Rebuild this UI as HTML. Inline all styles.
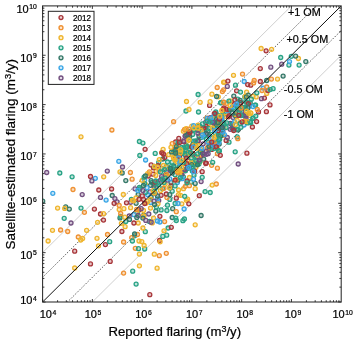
<!DOCTYPE html><html><head><meta charset="utf-8"><style>html,body{margin:0;padding:0;background:#fff;}svg{display:block;will-change:transform;} text{font-family:"Liberation Sans",sans-serif;fill:#000;stroke:#000;stroke-width:0.22px;}</style></head><body>
<svg width="357" height="342" viewBox="0 0 357 342">
<defs><clipPath id="c"><rect x="42.60" y="5.90" width="298.60" height="296.10"/></clipPath></defs>
<g clip-path="url(#c)">
<line x1="-7.17" y1="302.00" x2="390.97" y2="-92.80" stroke="#cfcfcf" stroke-width="1.0"/>
<line x1="-7.17" y1="400.70" x2="390.97" y2="5.90" stroke="#cfcfcf" stroke-width="1.0"/>
<line x1="-7.17" y1="326.68" x2="390.97" y2="-68.12" stroke="#3a3a3a" stroke-width="0.8" stroke-dasharray="1.5 1.4"/>
<line x1="-7.17" y1="376.02" x2="390.97" y2="-18.78" stroke="#3a3a3a" stroke-width="0.8" stroke-dasharray="1.5 1.4"/>
</g>
<g clip-path="url(#c)" stroke-width="1.3">
<circle cx="164.6" cy="221.6" r="2.0" stroke="#ef9132" fill="#ef9132" fill-opacity="0.3"/>
<circle cx="158.7" cy="200.5" r="2.0" stroke="#735080" fill="#735080" fill-opacity="0.3"/>
<circle cx="244.0" cy="125.0" r="2.0" stroke="#3aa6e6" fill="#3aa6e6" fill-opacity="0.3"/>
<circle cx="198.6" cy="126.4" r="2.0" stroke="#29a386" fill="#29a386" fill-opacity="0.3"/>
<circle cx="305.8" cy="61.6" r="2.0" stroke="#357868" fill="#357868" fill-opacity="0.3"/>
<circle cx="229.5" cy="109.3" r="2.0" stroke="#a8363a" fill="#a8363a" fill-opacity="0.3"/>
<circle cx="156.4" cy="171.3" r="2.0" stroke="#efb52e" fill="#efb52e" fill-opacity="0.3"/>
<circle cx="150.6" cy="202.4" r="2.0" stroke="#3aa6e6" fill="#3aa6e6" fill-opacity="0.3"/>
<circle cx="189.4" cy="177.5" r="2.0" stroke="#efb52e" fill="#efb52e" fill-opacity="0.3"/>
<circle cx="187.6" cy="157.1" r="2.0" stroke="#efb52e" fill="#efb52e" fill-opacity="0.3"/>
<circle cx="239.9" cy="104.2" r="2.0" stroke="#357868" fill="#357868" fill-opacity="0.3"/>
<circle cx="112.2" cy="195.5" r="2.0" stroke="#357868" fill="#357868" fill-opacity="0.3"/>
<circle cx="125.1" cy="226.7" r="2.0" stroke="#efb52e" fill="#efb52e" fill-opacity="0.3"/>
<circle cx="69.3" cy="209.1" r="2.0" stroke="#357868" fill="#357868" fill-opacity="0.3"/>
<circle cx="208.0" cy="130.9" r="2.0" stroke="#357868" fill="#357868" fill-opacity="0.3"/>
<circle cx="219.2" cy="144.1" r="2.0" stroke="#357868" fill="#357868" fill-opacity="0.3"/>
<circle cx="185.3" cy="170.8" r="2.0" stroke="#357868" fill="#357868" fill-opacity="0.3"/>
<circle cx="193.8" cy="130.3" r="2.0" stroke="#29a386" fill="#29a386" fill-opacity="0.3"/>
<circle cx="199.7" cy="125.8" r="2.0" stroke="#29a386" fill="#29a386" fill-opacity="0.3"/>
<circle cx="263.2" cy="88.1" r="2.0" stroke="#3aa6e6" fill="#3aa6e6" fill-opacity="0.3"/>
<circle cx="179.3" cy="159.5" r="2.0" stroke="#357868" fill="#357868" fill-opacity="0.3"/>
<circle cx="173.9" cy="166.0" r="2.0" stroke="#357868" fill="#357868" fill-opacity="0.3"/>
<circle cx="210.2" cy="192.5" r="2.0" stroke="#29a386" fill="#29a386" fill-opacity="0.3"/>
<circle cx="230.2" cy="129.3" r="2.0" stroke="#735080" fill="#735080" fill-opacity="0.3"/>
<circle cx="161.6" cy="152.6" r="2.0" stroke="#ef9132" fill="#ef9132" fill-opacity="0.3"/>
<circle cx="211.6" cy="165.3" r="2.0" stroke="#ef9132" fill="#ef9132" fill-opacity="0.3"/>
<circle cx="220.1" cy="125.1" r="2.0" stroke="#efb52e" fill="#efb52e" fill-opacity="0.3"/>
<circle cx="223.6" cy="82.2" r="2.0" stroke="#efb52e" fill="#efb52e" fill-opacity="0.3"/>
<circle cx="185.5" cy="150.0" r="2.0" stroke="#357868" fill="#357868" fill-opacity="0.3"/>
<circle cx="173.7" cy="151.3" r="2.0" stroke="#29a386" fill="#29a386" fill-opacity="0.3"/>
<circle cx="139.4" cy="187.5" r="2.0" stroke="#29a386" fill="#29a386" fill-opacity="0.3"/>
<circle cx="192.3" cy="171.0" r="2.0" stroke="#29a386" fill="#29a386" fill-opacity="0.3"/>
<circle cx="225.3" cy="113.2" r="2.0" stroke="#ef9132" fill="#ef9132" fill-opacity="0.3"/>
<circle cx="165.1" cy="184.2" r="2.0" stroke="#efb52e" fill="#efb52e" fill-opacity="0.3"/>
<circle cx="199.4" cy="127.4" r="2.0" stroke="#ef9132" fill="#ef9132" fill-opacity="0.3"/>
<circle cx="180.7" cy="161.6" r="2.0" stroke="#29a386" fill="#29a386" fill-opacity="0.3"/>
<circle cx="191.1" cy="182.2" r="2.0" stroke="#29a386" fill="#29a386" fill-opacity="0.3"/>
<circle cx="217.3" cy="148.6" r="2.0" stroke="#ef9132" fill="#ef9132" fill-opacity="0.3"/>
<circle cx="188.8" cy="132.3" r="2.0" stroke="#29a386" fill="#29a386" fill-opacity="0.3"/>
<circle cx="175.1" cy="174.8" r="2.0" stroke="#29a386" fill="#29a386" fill-opacity="0.3"/>
<circle cx="175.2" cy="159.2" r="2.0" stroke="#a8363a" fill="#a8363a" fill-opacity="0.3"/>
<circle cx="175.2" cy="148.8" r="2.0" stroke="#a8363a" fill="#a8363a" fill-opacity="0.3"/>
<circle cx="178.0" cy="152.0" r="2.0" stroke="#29a386" fill="#29a386" fill-opacity="0.3"/>
<circle cx="151.1" cy="197.0" r="2.0" stroke="#357868" fill="#357868" fill-opacity="0.3"/>
<circle cx="187.0" cy="164.7" r="2.0" stroke="#29a386" fill="#29a386" fill-opacity="0.3"/>
<circle cx="187.7" cy="154.1" r="2.0" stroke="#29a386" fill="#29a386" fill-opacity="0.3"/>
<circle cx="181.2" cy="174.6" r="2.0" stroke="#a8363a" fill="#a8363a" fill-opacity="0.3"/>
<circle cx="177.0" cy="147.6" r="2.0" stroke="#29a386" fill="#29a386" fill-opacity="0.3"/>
<circle cx="260.3" cy="81.5" r="2.0" stroke="#a8363a" fill="#a8363a" fill-opacity="0.3"/>
<circle cx="227.9" cy="114.1" r="2.0" stroke="#3aa6e6" fill="#3aa6e6" fill-opacity="0.3"/>
<circle cx="183.3" cy="170.6" r="2.0" stroke="#a8363a" fill="#a8363a" fill-opacity="0.3"/>
<circle cx="237.9" cy="129.9" r="2.0" stroke="#357868" fill="#357868" fill-opacity="0.3"/>
<circle cx="161.6" cy="168.4" r="2.0" stroke="#29a386" fill="#29a386" fill-opacity="0.3"/>
<circle cx="159.9" cy="216.3" r="2.0" stroke="#a8363a" fill="#a8363a" fill-opacity="0.3"/>
<circle cx="110.2" cy="261.4" r="2.0" stroke="#a8363a" fill="#a8363a" fill-opacity="0.3"/>
<circle cx="139.0" cy="209.9" r="2.0" stroke="#a8363a" fill="#a8363a" fill-opacity="0.3"/>
<circle cx="136.1" cy="203.3" r="2.0" stroke="#357868" fill="#357868" fill-opacity="0.3"/>
<circle cx="244.8" cy="107.4" r="2.0" stroke="#735080" fill="#735080" fill-opacity="0.3"/>
<circle cx="233.1" cy="117.6" r="2.0" stroke="#735080" fill="#735080" fill-opacity="0.3"/>
<circle cx="193.4" cy="154.7" r="2.0" stroke="#a8363a" fill="#a8363a" fill-opacity="0.3"/>
<circle cx="206.6" cy="118.1" r="2.0" stroke="#ef9132" fill="#ef9132" fill-opacity="0.3"/>
<circle cx="168.1" cy="228.0" r="2.0" stroke="#29a386" fill="#29a386" fill-opacity="0.3"/>
<circle cx="242.7" cy="107.6" r="2.0" stroke="#29a386" fill="#29a386" fill-opacity="0.3"/>
<circle cx="137.4" cy="212.9" r="2.0" stroke="#29a386" fill="#29a386" fill-opacity="0.3"/>
<circle cx="195.8" cy="145.5" r="2.0" stroke="#29a386" fill="#29a386" fill-opacity="0.3"/>
<circle cx="183.4" cy="176.8" r="2.0" stroke="#29a386" fill="#29a386" fill-opacity="0.3"/>
<circle cx="154.3" cy="254.2" r="2.0" stroke="#efb52e" fill="#efb52e" fill-opacity="0.3"/>
<circle cx="219.5" cy="115.7" r="2.0" stroke="#29a386" fill="#29a386" fill-opacity="0.3"/>
<circle cx="185.3" cy="150.8" r="2.0" stroke="#29a386" fill="#29a386" fill-opacity="0.3"/>
<circle cx="187.8" cy="131.1" r="2.0" stroke="#357868" fill="#357868" fill-opacity="0.3"/>
<circle cx="226.7" cy="103.3" r="2.0" stroke="#ef9132" fill="#ef9132" fill-opacity="0.3"/>
<circle cx="178.0" cy="172.5" r="2.0" stroke="#735080" fill="#735080" fill-opacity="0.3"/>
<circle cx="177.1" cy="147.8" r="2.0" stroke="#ef9132" fill="#ef9132" fill-opacity="0.3"/>
<circle cx="196.1" cy="163.3" r="2.0" stroke="#efb52e" fill="#efb52e" fill-opacity="0.3"/>
<circle cx="189.4" cy="185.7" r="2.0" stroke="#ef9132" fill="#ef9132" fill-opacity="0.3"/>
<circle cx="202.5" cy="130.9" r="2.0" stroke="#29a386" fill="#29a386" fill-opacity="0.3"/>
<circle cx="184.1" cy="209.0" r="2.0" stroke="#3aa6e6" fill="#3aa6e6" fill-opacity="0.3"/>
<circle cx="217.4" cy="168.2" r="2.0" stroke="#ef9132" fill="#ef9132" fill-opacity="0.3"/>
<circle cx="166.3" cy="171.6" r="2.0" stroke="#735080" fill="#735080" fill-opacity="0.3"/>
<circle cx="186.1" cy="145.1" r="2.0" stroke="#29a386" fill="#29a386" fill-opacity="0.3"/>
<circle cx="209.0" cy="143.8" r="2.0" stroke="#efb52e" fill="#efb52e" fill-opacity="0.3"/>
<circle cx="209.6" cy="105.4" r="2.0" stroke="#a8363a" fill="#a8363a" fill-opacity="0.3"/>
<circle cx="210.1" cy="101.7" r="2.0" stroke="#efb52e" fill="#efb52e" fill-opacity="0.3"/>
<circle cx="192.6" cy="134.4" r="2.0" stroke="#29a386" fill="#29a386" fill-opacity="0.3"/>
<circle cx="238.2" cy="164.0" r="2.0" stroke="#735080" fill="#735080" fill-opacity="0.3"/>
<circle cx="84.4" cy="212.3" r="2.0" stroke="#ef9132" fill="#ef9132" fill-opacity="0.3"/>
<circle cx="223.6" cy="89.8" r="2.0" stroke="#ef9132" fill="#ef9132" fill-opacity="0.3"/>
<circle cx="182.6" cy="153.4" r="2.0" stroke="#29a386" fill="#29a386" fill-opacity="0.3"/>
<circle cx="143.5" cy="199.4" r="2.0" stroke="#a8363a" fill="#a8363a" fill-opacity="0.3"/>
<circle cx="190.5" cy="163.1" r="2.0" stroke="#29a386" fill="#29a386" fill-opacity="0.3"/>
<circle cx="166.3" cy="253.3" r="2.0" stroke="#ef9132" fill="#ef9132" fill-opacity="0.3"/>
<circle cx="246.6" cy="92.2" r="2.0" stroke="#efb52e" fill="#efb52e" fill-opacity="0.3"/>
<circle cx="209.9" cy="144.8" r="2.0" stroke="#735080" fill="#735080" fill-opacity="0.3"/>
<circle cx="219.5" cy="121.0" r="2.0" stroke="#efb52e" fill="#efb52e" fill-opacity="0.3"/>
<circle cx="245.7" cy="101.6" r="2.0" stroke="#29a386" fill="#29a386" fill-opacity="0.3"/>
<circle cx="208.9" cy="135.8" r="2.0" stroke="#735080" fill="#735080" fill-opacity="0.3"/>
<circle cx="180.5" cy="149.3" r="2.0" stroke="#29a386" fill="#29a386" fill-opacity="0.3"/>
<circle cx="258.5" cy="112.0" r="2.0" stroke="#a8363a" fill="#a8363a" fill-opacity="0.3"/>
<circle cx="154.0" cy="186.5" r="2.0" stroke="#735080" fill="#735080" fill-opacity="0.3"/>
<circle cx="64.2" cy="218.3" r="2.0" stroke="#29a386" fill="#29a386" fill-opacity="0.3"/>
<circle cx="122.2" cy="173.0" r="2.0" stroke="#357868" fill="#357868" fill-opacity="0.3"/>
<circle cx="216.3" cy="184.0" r="2.0" stroke="#ef9132" fill="#ef9132" fill-opacity="0.3"/>
<circle cx="246.9" cy="153.2" r="2.0" stroke="#a8363a" fill="#a8363a" fill-opacity="0.3"/>
<circle cx="211.4" cy="137.3" r="2.0" stroke="#3aa6e6" fill="#3aa6e6" fill-opacity="0.3"/>
<circle cx="223.0" cy="109.3" r="2.0" stroke="#a8363a" fill="#a8363a" fill-opacity="0.3"/>
<circle cx="151.1" cy="164.9" r="2.0" stroke="#a8363a" fill="#a8363a" fill-opacity="0.3"/>
<circle cx="158.7" cy="162.5" r="2.0" stroke="#29a386" fill="#29a386" fill-opacity="0.3"/>
<circle cx="237.2" cy="136.9" r="2.0" stroke="#29a386" fill="#29a386" fill-opacity="0.3"/>
<circle cx="130.6" cy="207.7" r="2.0" stroke="#efb52e" fill="#efb52e" fill-opacity="0.3"/>
<circle cx="201.0" cy="137.6" r="2.0" stroke="#29a386" fill="#29a386" fill-opacity="0.3"/>
<circle cx="195.9" cy="167.3" r="2.0" stroke="#efb52e" fill="#efb52e" fill-opacity="0.3"/>
<circle cx="171.0" cy="182.4" r="2.0" stroke="#357868" fill="#357868" fill-opacity="0.3"/>
<circle cx="175.6" cy="158.3" r="2.0" stroke="#a8363a" fill="#a8363a" fill-opacity="0.3"/>
<circle cx="250.1" cy="121.7" r="2.0" stroke="#29a386" fill="#29a386" fill-opacity="0.3"/>
<circle cx="187.6" cy="146.2" r="2.0" stroke="#efb52e" fill="#efb52e" fill-opacity="0.3"/>
<circle cx="189.6" cy="136.8" r="2.0" stroke="#29a386" fill="#29a386" fill-opacity="0.3"/>
<circle cx="155.8" cy="211.1" r="2.0" stroke="#357868" fill="#357868" fill-opacity="0.3"/>
<circle cx="235.2" cy="115.4" r="2.0" stroke="#357868" fill="#357868" fill-opacity="0.3"/>
<circle cx="81.0" cy="136.8" r="2.0" stroke="#efb52e" fill="#efb52e" fill-opacity="0.3"/>
<circle cx="179.2" cy="167.8" r="2.0" stroke="#3aa6e6" fill="#3aa6e6" fill-opacity="0.3"/>
<circle cx="94.4" cy="209.1" r="2.0" stroke="#a8363a" fill="#a8363a" fill-opacity="0.3"/>
<circle cx="266.4" cy="111.7" r="2.0" stroke="#a8363a" fill="#a8363a" fill-opacity="0.3"/>
<circle cx="132.7" cy="271.2" r="2.0" stroke="#29a386" fill="#29a386" fill-opacity="0.3"/>
<circle cx="169.8" cy="199.4" r="2.0" stroke="#29a386" fill="#29a386" fill-opacity="0.3"/>
<circle cx="182.0" cy="174.6" r="2.0" stroke="#735080" fill="#735080" fill-opacity="0.3"/>
<circle cx="203.7" cy="159.1" r="2.0" stroke="#357868" fill="#357868" fill-opacity="0.3"/>
<circle cx="248.3" cy="95.1" r="2.0" stroke="#357868" fill="#357868" fill-opacity="0.3"/>
<circle cx="154.4" cy="184.3" r="2.0" stroke="#a8363a" fill="#a8363a" fill-opacity="0.3"/>
<circle cx="233.1" cy="129.0" r="2.0" stroke="#357868" fill="#357868" fill-opacity="0.3"/>
<circle cx="150.6" cy="199.4" r="2.0" stroke="#efb52e" fill="#efb52e" fill-opacity="0.3"/>
<circle cx="222.4" cy="91.6" r="2.0" stroke="#ef9132" fill="#ef9132" fill-opacity="0.3"/>
<circle cx="162.8" cy="159.0" r="2.0" stroke="#357868" fill="#357868" fill-opacity="0.3"/>
<circle cx="143.7" cy="215.2" r="2.0" stroke="#357868" fill="#357868" fill-opacity="0.3"/>
<circle cx="178.6" cy="190.0" r="2.0" stroke="#efb52e" fill="#efb52e" fill-opacity="0.3"/>
<circle cx="164.8" cy="157.6" r="2.0" stroke="#a8363a" fill="#a8363a" fill-opacity="0.3"/>
<circle cx="222.0" cy="120.5" r="2.0" stroke="#3aa6e6" fill="#3aa6e6" fill-opacity="0.3"/>
<circle cx="248.9" cy="106.3" r="2.0" stroke="#3aa6e6" fill="#3aa6e6" fill-opacity="0.3"/>
<circle cx="199.3" cy="195.7" r="2.0" stroke="#a8363a" fill="#a8363a" fill-opacity="0.3"/>
<circle cx="237.8" cy="99.2" r="2.0" stroke="#29a386" fill="#29a386" fill-opacity="0.3"/>
<circle cx="205.5" cy="128.0" r="2.0" stroke="#29a386" fill="#29a386" fill-opacity="0.3"/>
<circle cx="152.9" cy="174.2" r="2.0" stroke="#a8363a" fill="#a8363a" fill-opacity="0.3"/>
<circle cx="156.4" cy="207.0" r="2.0" stroke="#29a386" fill="#29a386" fill-opacity="0.3"/>
<circle cx="174.1" cy="170.8" r="2.0" stroke="#29a386" fill="#29a386" fill-opacity="0.3"/>
<circle cx="149.4" cy="221.5" r="2.0" stroke="#29a386" fill="#29a386" fill-opacity="0.3"/>
<circle cx="135.3" cy="248.3" r="2.0" stroke="#ef9132" fill="#ef9132" fill-opacity="0.3"/>
<circle cx="218.5" cy="123.4" r="2.0" stroke="#29a386" fill="#29a386" fill-opacity="0.3"/>
<circle cx="288.9" cy="65.1" r="2.0" stroke="#29a386" fill="#29a386" fill-opacity="0.3"/>
<circle cx="236.1" cy="114.7" r="2.0" stroke="#efb52e" fill="#efb52e" fill-opacity="0.3"/>
<circle cx="136.8" cy="212.0" r="2.0" stroke="#efb52e" fill="#efb52e" fill-opacity="0.3"/>
<circle cx="153.5" cy="167.8" r="2.0" stroke="#a8363a" fill="#a8363a" fill-opacity="0.3"/>
<circle cx="162.6" cy="188.7" r="2.0" stroke="#29a386" fill="#29a386" fill-opacity="0.3"/>
<circle cx="187.8" cy="160.2" r="2.0" stroke="#ef9132" fill="#ef9132" fill-opacity="0.3"/>
<circle cx="207.2" cy="134.4" r="2.0" stroke="#735080" fill="#735080" fill-opacity="0.3"/>
<circle cx="198.9" cy="164.0" r="2.0" stroke="#29a386" fill="#29a386" fill-opacity="0.3"/>
<circle cx="188.1" cy="138.1" r="2.0" stroke="#29a386" fill="#29a386" fill-opacity="0.3"/>
<circle cx="178.5" cy="168.8" r="2.0" stroke="#efb52e" fill="#efb52e" fill-opacity="0.3"/>
<circle cx="262.0" cy="90.5" r="2.0" stroke="#ef9132" fill="#ef9132" fill-opacity="0.3"/>
<circle cx="231.9" cy="123.4" r="2.0" stroke="#efb52e" fill="#efb52e" fill-opacity="0.3"/>
<circle cx="144.7" cy="249.0" r="2.0" stroke="#29a386" fill="#29a386" fill-opacity="0.3"/>
<circle cx="229.0" cy="142.2" r="2.0" stroke="#29a386" fill="#29a386" fill-opacity="0.3"/>
<circle cx="196.4" cy="163.5" r="2.0" stroke="#29a386" fill="#29a386" fill-opacity="0.3"/>
<circle cx="232.0" cy="124.0" r="2.0" stroke="#3aa6e6" fill="#3aa6e6" fill-opacity="0.3"/>
<circle cx="182.9" cy="220.7" r="2.0" stroke="#29a386" fill="#29a386" fill-opacity="0.3"/>
<circle cx="157.5" cy="183.0" r="2.0" stroke="#29a386" fill="#29a386" fill-opacity="0.3"/>
<circle cx="211.7" cy="149.4" r="2.0" stroke="#a8363a" fill="#a8363a" fill-opacity="0.3"/>
<circle cx="144.7" cy="180.1" r="2.0" stroke="#3aa6e6" fill="#3aa6e6" fill-opacity="0.3"/>
<circle cx="238.5" cy="108.6" r="2.0" stroke="#357868" fill="#357868" fill-opacity="0.3"/>
<circle cx="212.7" cy="143.2" r="2.0" stroke="#735080" fill="#735080" fill-opacity="0.3"/>
<circle cx="171.4" cy="170.9" r="2.0" stroke="#357868" fill="#357868" fill-opacity="0.3"/>
<circle cx="177.4" cy="182.4" r="2.0" stroke="#3aa6e6" fill="#3aa6e6" fill-opacity="0.3"/>
<circle cx="218.8" cy="118.4" r="2.0" stroke="#efb52e" fill="#efb52e" fill-opacity="0.3"/>
<circle cx="214.7" cy="123.6" r="2.0" stroke="#29a386" fill="#29a386" fill-opacity="0.3"/>
<circle cx="166.9" cy="197.6" r="2.0" stroke="#ef9132" fill="#ef9132" fill-opacity="0.3"/>
<circle cx="165.7" cy="174.3" r="2.0" stroke="#357868" fill="#357868" fill-opacity="0.3"/>
<circle cx="209.0" cy="149.7" r="2.0" stroke="#29a386" fill="#29a386" fill-opacity="0.3"/>
<circle cx="179.8" cy="149.1" r="2.0" stroke="#efb52e" fill="#efb52e" fill-opacity="0.3"/>
<circle cx="223.8" cy="127.5" r="2.0" stroke="#efb52e" fill="#efb52e" fill-opacity="0.3"/>
<circle cx="224.4" cy="82.3" r="2.0" stroke="#efb52e" fill="#efb52e" fill-opacity="0.3"/>
<circle cx="166.3" cy="166.6" r="2.0" stroke="#357868" fill="#357868" fill-opacity="0.3"/>
<circle cx="219.4" cy="150.9" r="2.0" stroke="#29a386" fill="#29a386" fill-opacity="0.3"/>
<circle cx="145.3" cy="184.2" r="2.0" stroke="#efb52e" fill="#efb52e" fill-opacity="0.3"/>
<circle cx="183.4" cy="131.2" r="2.0" stroke="#efb52e" fill="#efb52e" fill-opacity="0.3"/>
<circle cx="174.1" cy="167.6" r="2.0" stroke="#29a386" fill="#29a386" fill-opacity="0.3"/>
<circle cx="216.3" cy="146.7" r="2.0" stroke="#a8363a" fill="#a8363a" fill-opacity="0.3"/>
<circle cx="244.9" cy="108.7" r="2.0" stroke="#29a386" fill="#29a386" fill-opacity="0.3"/>
<circle cx="216.8" cy="124.0" r="2.0" stroke="#357868" fill="#357868" fill-opacity="0.3"/>
<circle cx="157.5" cy="198.8" r="2.0" stroke="#3aa6e6" fill="#3aa6e6" fill-opacity="0.3"/>
<circle cx="181.8" cy="203.8" r="2.0" stroke="#efb52e" fill="#efb52e" fill-opacity="0.3"/>
<circle cx="134.6" cy="235.8" r="2.0" stroke="#29a386" fill="#29a386" fill-opacity="0.3"/>
<circle cx="156.2" cy="187.2" r="2.0" stroke="#29a386" fill="#29a386" fill-opacity="0.3"/>
<circle cx="193.0" cy="167.9" r="2.0" stroke="#29a386" fill="#29a386" fill-opacity="0.3"/>
<circle cx="222.0" cy="132.8" r="2.0" stroke="#29a386" fill="#29a386" fill-opacity="0.3"/>
<circle cx="249.9" cy="115.7" r="2.0" stroke="#efb52e" fill="#efb52e" fill-opacity="0.3"/>
<circle cx="180.1" cy="152.2" r="2.0" stroke="#29a386" fill="#29a386" fill-opacity="0.3"/>
<circle cx="224.1" cy="124.0" r="2.0" stroke="#29a386" fill="#29a386" fill-opacity="0.3"/>
<circle cx="152.0" cy="182.5" r="2.0" stroke="#29a386" fill="#29a386" fill-opacity="0.3"/>
<circle cx="175.6" cy="142.0" r="2.0" stroke="#a8363a" fill="#a8363a" fill-opacity="0.3"/>
<circle cx="244.8" cy="96.9" r="2.0" stroke="#29a386" fill="#29a386" fill-opacity="0.3"/>
<circle cx="219.2" cy="125.4" r="2.0" stroke="#29a386" fill="#29a386" fill-opacity="0.3"/>
<circle cx="184.3" cy="163.4" r="2.0" stroke="#ef9132" fill="#ef9132" fill-opacity="0.3"/>
<circle cx="183.6" cy="148.2" r="2.0" stroke="#29a386" fill="#29a386" fill-opacity="0.3"/>
<circle cx="247.7" cy="122.9" r="2.0" stroke="#29a386" fill="#29a386" fill-opacity="0.3"/>
<circle cx="223.0" cy="135.4" r="2.0" stroke="#efb52e" fill="#efb52e" fill-opacity="0.3"/>
<circle cx="215.6" cy="127.5" r="2.0" stroke="#efb52e" fill="#efb52e" fill-opacity="0.3"/>
<circle cx="213.9" cy="148.5" r="2.0" stroke="#29a386" fill="#29a386" fill-opacity="0.3"/>
<circle cx="150.0" cy="191.8" r="2.0" stroke="#735080" fill="#735080" fill-opacity="0.3"/>
<circle cx="187.4" cy="146.6" r="2.0" stroke="#29a386" fill="#29a386" fill-opacity="0.3"/>
<circle cx="250.2" cy="102.9" r="2.0" stroke="#357868" fill="#357868" fill-opacity="0.3"/>
<circle cx="149.8" cy="294.7" r="2.0" stroke="#a8363a" fill="#a8363a" fill-opacity="0.3"/>
<circle cx="97.6" cy="222.3" r="2.0" stroke="#efb52e" fill="#efb52e" fill-opacity="0.3"/>
<circle cx="137.5" cy="234.5" r="2.0" stroke="#ef9132" fill="#ef9132" fill-opacity="0.3"/>
<circle cx="250.7" cy="85.2" r="2.0" stroke="#a8363a" fill="#a8363a" fill-opacity="0.3"/>
<circle cx="133.9" cy="214.7" r="2.0" stroke="#3aa6e6" fill="#3aa6e6" fill-opacity="0.3"/>
<circle cx="218.5" cy="142.5" r="2.0" stroke="#a8363a" fill="#a8363a" fill-opacity="0.3"/>
<circle cx="158.0" cy="203.8" r="2.0" stroke="#efb52e" fill="#efb52e" fill-opacity="0.3"/>
<circle cx="123.3" cy="194.5" r="2.0" stroke="#efb52e" fill="#efb52e" fill-opacity="0.3"/>
<circle cx="246.4" cy="122.1" r="2.0" stroke="#29a386" fill="#29a386" fill-opacity="0.3"/>
<circle cx="200.9" cy="155.2" r="2.0" stroke="#a8363a" fill="#a8363a" fill-opacity="0.3"/>
<circle cx="177.2" cy="146.3" r="2.0" stroke="#efb52e" fill="#efb52e" fill-opacity="0.3"/>
<circle cx="255.1" cy="105.1" r="2.0" stroke="#29a386" fill="#29a386" fill-opacity="0.3"/>
<circle cx="229.1" cy="109.7" r="2.0" stroke="#a8363a" fill="#a8363a" fill-opacity="0.3"/>
<circle cx="57.6" cy="208.1" r="2.0" stroke="#efb52e" fill="#efb52e" fill-opacity="0.3"/>
<circle cx="226.1" cy="140.4" r="2.0" stroke="#a8363a" fill="#a8363a" fill-opacity="0.3"/>
<circle cx="211.2" cy="142.1" r="2.0" stroke="#efb52e" fill="#efb52e" fill-opacity="0.3"/>
<circle cx="209.0" cy="123.4" r="2.0" stroke="#efb52e" fill="#efb52e" fill-opacity="0.3"/>
<circle cx="235.7" cy="112.9" r="2.0" stroke="#357868" fill="#357868" fill-opacity="0.3"/>
<circle cx="215.1" cy="124.1" r="2.0" stroke="#3aa6e6" fill="#3aa6e6" fill-opacity="0.3"/>
<circle cx="256.2" cy="96.9" r="2.0" stroke="#efb52e" fill="#efb52e" fill-opacity="0.3"/>
<circle cx="180.8" cy="150.1" r="2.0" stroke="#efb52e" fill="#efb52e" fill-opacity="0.3"/>
<circle cx="227.3" cy="137.5" r="2.0" stroke="#735080" fill="#735080" fill-opacity="0.3"/>
<circle cx="214.4" cy="128.0" r="2.0" stroke="#29a386" fill="#29a386" fill-opacity="0.3"/>
<circle cx="218.8" cy="142.1" r="2.0" stroke="#3aa6e6" fill="#3aa6e6" fill-opacity="0.3"/>
<circle cx="48.1" cy="241.0" r="2.0" stroke="#efb52e" fill="#efb52e" fill-opacity="0.3"/>
<circle cx="159.3" cy="159.6" r="2.0" stroke="#efb52e" fill="#efb52e" fill-opacity="0.3"/>
<circle cx="186.0" cy="111.0" r="2.0" stroke="#29a386" fill="#29a386" fill-opacity="0.3"/>
<circle cx="211.9" cy="94.2" r="2.0" stroke="#efb52e" fill="#efb52e" fill-opacity="0.3"/>
<circle cx="217.6" cy="121.2" r="2.0" stroke="#a8363a" fill="#a8363a" fill-opacity="0.3"/>
<circle cx="74.7" cy="251.2" r="2.0" stroke="#a8363a" fill="#a8363a" fill-opacity="0.3"/>
<circle cx="270.8" cy="67.2" r="2.0" stroke="#735080" fill="#735080" fill-opacity="0.3"/>
<circle cx="223.8" cy="108.0" r="2.0" stroke="#a8363a" fill="#a8363a" fill-opacity="0.3"/>
<circle cx="219.7" cy="139.2" r="2.0" stroke="#29a386" fill="#29a386" fill-opacity="0.3"/>
<circle cx="220.6" cy="127.2" r="2.0" stroke="#efb52e" fill="#efb52e" fill-opacity="0.3"/>
<circle cx="105.4" cy="244.6" r="2.0" stroke="#a8363a" fill="#a8363a" fill-opacity="0.3"/>
<circle cx="120.0" cy="217.9" r="2.0" stroke="#357868" fill="#357868" fill-opacity="0.3"/>
<circle cx="194.1" cy="141.4" r="2.0" stroke="#3aa6e6" fill="#3aa6e6" fill-opacity="0.3"/>
<circle cx="172.0" cy="162.1" r="2.0" stroke="#29a386" fill="#29a386" fill-opacity="0.3"/>
<circle cx="95.3" cy="178.3" r="2.0" stroke="#3aa6e6" fill="#3aa6e6" fill-opacity="0.3"/>
<circle cx="183.9" cy="141.7" r="2.0" stroke="#a8363a" fill="#a8363a" fill-opacity="0.3"/>
<circle cx="155.2" cy="193.5" r="2.0" stroke="#735080" fill="#735080" fill-opacity="0.3"/>
<circle cx="125.8" cy="180.6" r="2.0" stroke="#357868" fill="#357868" fill-opacity="0.3"/>
<circle cx="266.1" cy="50.8" r="2.0" stroke="#a8363a" fill="#a8363a" fill-opacity="0.3"/>
<circle cx="216.5" cy="122.3" r="2.0" stroke="#29a386" fill="#29a386" fill-opacity="0.3"/>
<circle cx="299.1" cy="65.1" r="2.0" stroke="#29a386" fill="#29a386" fill-opacity="0.3"/>
<circle cx="189.4" cy="167.6" r="2.0" stroke="#735080" fill="#735080" fill-opacity="0.3"/>
<circle cx="129.2" cy="216.0" r="2.0" stroke="#735080" fill="#735080" fill-opacity="0.3"/>
<circle cx="191.0" cy="162.9" r="2.0" stroke="#efb52e" fill="#efb52e" fill-opacity="0.3"/>
<circle cx="186.5" cy="101.5" r="2.0" stroke="#efb52e" fill="#efb52e" fill-opacity="0.3"/>
<circle cx="131.4" cy="199.3" r="2.0" stroke="#29a386" fill="#29a386" fill-opacity="0.3"/>
<circle cx="214.3" cy="113.6" r="2.0" stroke="#a8363a" fill="#a8363a" fill-opacity="0.3"/>
<circle cx="198.1" cy="141.3" r="2.0" stroke="#a8363a" fill="#a8363a" fill-opacity="0.3"/>
<circle cx="143.5" cy="210.5" r="2.0" stroke="#efb52e" fill="#efb52e" fill-opacity="0.3"/>
<circle cx="159.6" cy="240.5" r="2.0" stroke="#a8363a" fill="#a8363a" fill-opacity="0.3"/>
<circle cx="226.1" cy="127.5" r="2.0" stroke="#29a386" fill="#29a386" fill-opacity="0.3"/>
<circle cx="147.6" cy="194.7" r="2.0" stroke="#3aa6e6" fill="#3aa6e6" fill-opacity="0.3"/>
<circle cx="132.1" cy="179.2" r="2.0" stroke="#ef9132" fill="#ef9132" fill-opacity="0.3"/>
<circle cx="183.5" cy="141.1" r="2.0" stroke="#735080" fill="#735080" fill-opacity="0.3"/>
<circle cx="164.0" cy="230.8" r="2.0" stroke="#efb52e" fill="#efb52e" fill-opacity="0.3"/>
<circle cx="170.4" cy="170.1" r="2.0" stroke="#735080" fill="#735080" fill-opacity="0.3"/>
<circle cx="193.2" cy="141.1" r="2.0" stroke="#29a386" fill="#29a386" fill-opacity="0.3"/>
<circle cx="148.2" cy="176.0" r="2.0" stroke="#a8363a" fill="#a8363a" fill-opacity="0.3"/>
<circle cx="244.2" cy="81.5" r="2.0" stroke="#3aa6e6" fill="#3aa6e6" fill-opacity="0.3"/>
<circle cx="139.4" cy="141.5" r="2.0" stroke="#29a386" fill="#29a386" fill-opacity="0.3"/>
<circle cx="117.0" cy="201.8" r="2.0" stroke="#735080" fill="#735080" fill-opacity="0.3"/>
<circle cx="173.3" cy="157.3" r="2.0" stroke="#efb52e" fill="#efb52e" fill-opacity="0.3"/>
<circle cx="196.4" cy="161.2" r="2.0" stroke="#29a386" fill="#29a386" fill-opacity="0.3"/>
<circle cx="207.2" cy="148.2" r="2.0" stroke="#ef9132" fill="#ef9132" fill-opacity="0.3"/>
<circle cx="161.1" cy="195.3" r="2.0" stroke="#a8363a" fill="#a8363a" fill-opacity="0.3"/>
<circle cx="217.2" cy="87.5" r="2.0" stroke="#ef9132" fill="#ef9132" fill-opacity="0.3"/>
<circle cx="191.8" cy="126.1" r="2.0" stroke="#efb52e" fill="#efb52e" fill-opacity="0.3"/>
<circle cx="205.6" cy="122.3" r="2.0" stroke="#735080" fill="#735080" fill-opacity="0.3"/>
<circle cx="153.5" cy="218.1" r="2.0" stroke="#efb52e" fill="#efb52e" fill-opacity="0.3"/>
<circle cx="153.2" cy="190.7" r="2.0" stroke="#efb52e" fill="#efb52e" fill-opacity="0.3"/>
<circle cx="118.8" cy="161.3" r="2.0" stroke="#3aa6e6" fill="#3aa6e6" fill-opacity="0.3"/>
<circle cx="145.1" cy="149.3" r="2.0" stroke="#a8363a" fill="#a8363a" fill-opacity="0.3"/>
<circle cx="176.3" cy="152.3" r="2.0" stroke="#a8363a" fill="#a8363a" fill-opacity="0.3"/>
<circle cx="198.5" cy="129.7" r="2.0" stroke="#357868" fill="#357868" fill-opacity="0.3"/>
<circle cx="246.0" cy="118.8" r="2.0" stroke="#735080" fill="#735080" fill-opacity="0.3"/>
<circle cx="145.6" cy="160.0" r="2.0" stroke="#3aa6e6" fill="#3aa6e6" fill-opacity="0.3"/>
<circle cx="175.1" cy="203.5" r="2.0" stroke="#29a386" fill="#29a386" fill-opacity="0.3"/>
<circle cx="216.3" cy="141.7" r="2.0" stroke="#29a386" fill="#29a386" fill-opacity="0.3"/>
<circle cx="183.5" cy="188.7" r="2.0" stroke="#efb52e" fill="#efb52e" fill-opacity="0.3"/>
<circle cx="155.2" cy="153.4" r="2.0" stroke="#29a386" fill="#29a386" fill-opacity="0.3"/>
<circle cx="120.0" cy="171.9" r="2.0" stroke="#efb52e" fill="#efb52e" fill-opacity="0.3"/>
<circle cx="143.5" cy="216.0" r="2.0" stroke="#efb52e" fill="#efb52e" fill-opacity="0.3"/>
<circle cx="223.6" cy="114.5" r="2.0" stroke="#29a386" fill="#29a386" fill-opacity="0.3"/>
<circle cx="245.2" cy="96.4" r="2.0" stroke="#efb52e" fill="#efb52e" fill-opacity="0.3"/>
<circle cx="220.7" cy="102.8" r="2.0" stroke="#29a386" fill="#29a386" fill-opacity="0.3"/>
<circle cx="216.0" cy="136.2" r="2.0" stroke="#efb52e" fill="#efb52e" fill-opacity="0.3"/>
<circle cx="106.1" cy="200.1" r="2.0" stroke="#3aa6e6" fill="#3aa6e6" fill-opacity="0.3"/>
<circle cx="214.2" cy="123.9" r="2.0" stroke="#735080" fill="#735080" fill-opacity="0.3"/>
<circle cx="176.2" cy="146.6" r="2.0" stroke="#357868" fill="#357868" fill-opacity="0.3"/>
<circle cx="192.7" cy="144.9" r="2.0" stroke="#357868" fill="#357868" fill-opacity="0.3"/>
<circle cx="121.4" cy="223.3" r="2.0" stroke="#efb52e" fill="#efb52e" fill-opacity="0.3"/>
<circle cx="230.4" cy="100.9" r="2.0" stroke="#efb52e" fill="#efb52e" fill-opacity="0.3"/>
<circle cx="214.7" cy="130.2" r="2.0" stroke="#a8363a" fill="#a8363a" fill-opacity="0.3"/>
<circle cx="178.1" cy="180.0" r="2.0" stroke="#357868" fill="#357868" fill-opacity="0.3"/>
<circle cx="143.9" cy="216.3" r="2.0" stroke="#efb52e" fill="#efb52e" fill-opacity="0.3"/>
<circle cx="298.4" cy="58.5" r="2.0" stroke="#efb52e" fill="#efb52e" fill-opacity="0.3"/>
<circle cx="233.7" cy="108.0" r="2.0" stroke="#29a386" fill="#29a386" fill-opacity="0.3"/>
<circle cx="168.7" cy="154.7" r="2.0" stroke="#efb52e" fill="#efb52e" fill-opacity="0.3"/>
<circle cx="161.9" cy="178.9" r="2.0" stroke="#29a386" fill="#29a386" fill-opacity="0.3"/>
<circle cx="243.8" cy="115.5" r="2.0" stroke="#29a386" fill="#29a386" fill-opacity="0.3"/>
<circle cx="198.3" cy="130.5" r="2.0" stroke="#29a386" fill="#29a386" fill-opacity="0.3"/>
<circle cx="233.8" cy="96.1" r="2.0" stroke="#357868" fill="#357868" fill-opacity="0.3"/>
<circle cx="107.3" cy="171.1" r="2.0" stroke="#735080" fill="#735080" fill-opacity="0.3"/>
<circle cx="188.5" cy="134.4" r="2.0" stroke="#a8363a" fill="#a8363a" fill-opacity="0.3"/>
<circle cx="222.9" cy="131.2" r="2.0" stroke="#735080" fill="#735080" fill-opacity="0.3"/>
<circle cx="198.0" cy="140.7" r="2.0" stroke="#735080" fill="#735080" fill-opacity="0.3"/>
<circle cx="202.8" cy="153.0" r="2.0" stroke="#735080" fill="#735080" fill-opacity="0.3"/>
<circle cx="189.4" cy="149.9" r="2.0" stroke="#ef9132" fill="#ef9132" fill-opacity="0.3"/>
<circle cx="187.6" cy="199.2" r="2.0" stroke="#efb52e" fill="#efb52e" fill-opacity="0.3"/>
<circle cx="222.5" cy="129.6" r="2.0" stroke="#357868" fill="#357868" fill-opacity="0.3"/>
<circle cx="123.6" cy="242.0" r="2.0" stroke="#ef9132" fill="#ef9132" fill-opacity="0.3"/>
<circle cx="197.6" cy="163.7" r="2.0" stroke="#29a386" fill="#29a386" fill-opacity="0.3"/>
<circle cx="182.5" cy="170.6" r="2.0" stroke="#ef9132" fill="#ef9132" fill-opacity="0.3"/>
<circle cx="186.4" cy="200.3" r="2.0" stroke="#efb52e" fill="#efb52e" fill-opacity="0.3"/>
<circle cx="245.8" cy="116.3" r="2.0" stroke="#735080" fill="#735080" fill-opacity="0.3"/>
<circle cx="167.5" cy="176.0" r="2.0" stroke="#efb52e" fill="#efb52e" fill-opacity="0.3"/>
<circle cx="150.5" cy="208.1" r="2.0" stroke="#efb52e" fill="#efb52e" fill-opacity="0.3"/>
<circle cx="219.4" cy="123.7" r="2.0" stroke="#29a386" fill="#29a386" fill-opacity="0.3"/>
<circle cx="215.8" cy="127.7" r="2.0" stroke="#ef9132" fill="#ef9132" fill-opacity="0.3"/>
<circle cx="207.2" cy="118.5" r="2.0" stroke="#3aa6e6" fill="#3aa6e6" fill-opacity="0.3"/>
<circle cx="230.2" cy="123.5" r="2.0" stroke="#735080" fill="#735080" fill-opacity="0.3"/>
<circle cx="162.8" cy="236.4" r="2.0" stroke="#29a386" fill="#29a386" fill-opacity="0.3"/>
<circle cx="144.6" cy="183.6" r="2.0" stroke="#29a386" fill="#29a386" fill-opacity="0.3"/>
<circle cx="280.7" cy="57.5" r="2.0" stroke="#29a386" fill="#29a386" fill-opacity="0.3"/>
<circle cx="261.1" cy="48.5" r="2.0" stroke="#efb52e" fill="#efb52e" fill-opacity="0.3"/>
<circle cx="100.5" cy="214.0" r="2.0" stroke="#a8363a" fill="#a8363a" fill-opacity="0.3"/>
<circle cx="98.8" cy="190.0" r="2.0" stroke="#a8363a" fill="#a8363a" fill-opacity="0.3"/>
<circle cx="213.4" cy="141.8" r="2.0" stroke="#3aa6e6" fill="#3aa6e6" fill-opacity="0.3"/>
<circle cx="236.6" cy="90.8" r="2.0" stroke="#a8363a" fill="#a8363a" fill-opacity="0.3"/>
<circle cx="185.3" cy="186.3" r="2.0" stroke="#ef9132" fill="#ef9132" fill-opacity="0.3"/>
<circle cx="157.5" cy="195.9" r="2.0" stroke="#357868" fill="#357868" fill-opacity="0.3"/>
<circle cx="159.1" cy="170.2" r="2.0" stroke="#ef9132" fill="#ef9132" fill-opacity="0.3"/>
<circle cx="211.9" cy="134.4" r="2.0" stroke="#29a386" fill="#29a386" fill-opacity="0.3"/>
<circle cx="241.9" cy="111.2" r="2.0" stroke="#735080" fill="#735080" fill-opacity="0.3"/>
<circle cx="141.2" cy="208.7" r="2.0" stroke="#735080" fill="#735080" fill-opacity="0.3"/>
<circle cx="160.1" cy="241.8" r="2.0" stroke="#efb52e" fill="#efb52e" fill-opacity="0.3"/>
<circle cx="210.2" cy="117.7" r="2.0" stroke="#a8363a" fill="#a8363a" fill-opacity="0.3"/>
<circle cx="119.2" cy="209.6" r="2.0" stroke="#efb52e" fill="#efb52e" fill-opacity="0.3"/>
<circle cx="191.4" cy="154.9" r="2.0" stroke="#efb52e" fill="#efb52e" fill-opacity="0.3"/>
<circle cx="218.7" cy="135.6" r="2.0" stroke="#a8363a" fill="#a8363a" fill-opacity="0.3"/>
<circle cx="147.6" cy="201.7" r="2.0" stroke="#efb52e" fill="#efb52e" fill-opacity="0.3"/>
<circle cx="119.2" cy="205.5" r="2.0" stroke="#ef9132" fill="#ef9132" fill-opacity="0.3"/>
<circle cx="142.9" cy="218.1" r="2.0" stroke="#357868" fill="#357868" fill-opacity="0.3"/>
<circle cx="144.1" cy="245.5" r="2.0" stroke="#efb52e" fill="#efb52e" fill-opacity="0.3"/>
<circle cx="194.0" cy="144.8" r="2.0" stroke="#efb52e" fill="#efb52e" fill-opacity="0.3"/>
<circle cx="189.7" cy="136.4" r="2.0" stroke="#357868" fill="#357868" fill-opacity="0.3"/>
<circle cx="242.5" cy="74.1" r="2.0" stroke="#ef9132" fill="#ef9132" fill-opacity="0.3"/>
<circle cx="65.7" cy="206.9" r="2.0" stroke="#357868" fill="#357868" fill-opacity="0.3"/>
<circle cx="223.8" cy="102.2" r="2.0" stroke="#ef9132" fill="#ef9132" fill-opacity="0.3"/>
<circle cx="196.4" cy="147.1" r="2.0" stroke="#efb52e" fill="#efb52e" fill-opacity="0.3"/>
<circle cx="177.3" cy="162.0" r="2.0" stroke="#efb52e" fill="#efb52e" fill-opacity="0.3"/>
<circle cx="199.0" cy="136.2" r="2.0" stroke="#357868" fill="#357868" fill-opacity="0.3"/>
<circle cx="107.5" cy="234.5" r="2.0" stroke="#ef9132" fill="#ef9132" fill-opacity="0.3"/>
<circle cx="197.9" cy="125.1" r="2.0" stroke="#efb52e" fill="#efb52e" fill-opacity="0.3"/>
<circle cx="103.5" cy="220.1" r="2.0" stroke="#a8363a" fill="#a8363a" fill-opacity="0.3"/>
<circle cx="90.5" cy="263.9" r="2.0" stroke="#a8363a" fill="#a8363a" fill-opacity="0.3"/>
<circle cx="215.8" cy="112.0" r="2.0" stroke="#29a386" fill="#29a386" fill-opacity="0.3"/>
<circle cx="217.6" cy="141.8" r="2.0" stroke="#29a386" fill="#29a386" fill-opacity="0.3"/>
<circle cx="163.4" cy="165.5" r="2.0" stroke="#efb52e" fill="#efb52e" fill-opacity="0.3"/>
<circle cx="202.3" cy="152.9" r="2.0" stroke="#357868" fill="#357868" fill-opacity="0.3"/>
<circle cx="237.8" cy="138.7" r="2.0" stroke="#ef9132" fill="#ef9132" fill-opacity="0.3"/>
<circle cx="161.1" cy="209.9" r="2.0" stroke="#29a386" fill="#29a386" fill-opacity="0.3"/>
<circle cx="192.9" cy="153.5" r="2.0" stroke="#a8363a" fill="#a8363a" fill-opacity="0.3"/>
<circle cx="200.2" cy="102.3" r="2.0" stroke="#efb52e" fill="#efb52e" fill-opacity="0.3"/>
<circle cx="173.6" cy="121.7" r="2.0" stroke="#ef9132" fill="#ef9132" fill-opacity="0.3"/>
<circle cx="217.9" cy="118.8" r="2.0" stroke="#735080" fill="#735080" fill-opacity="0.3"/>
<circle cx="142.2" cy="180.3" r="2.0" stroke="#efb52e" fill="#efb52e" fill-opacity="0.3"/>
<circle cx="232.3" cy="124.3" r="2.0" stroke="#29a386" fill="#29a386" fill-opacity="0.3"/>
<circle cx="217.9" cy="132.2" r="2.0" stroke="#29a386" fill="#29a386" fill-opacity="0.3"/>
<circle cx="150.5" cy="185.3" r="2.0" stroke="#357868" fill="#357868" fill-opacity="0.3"/>
<circle cx="240.1" cy="110.2" r="2.0" stroke="#29a386" fill="#29a386" fill-opacity="0.3"/>
<circle cx="283.1" cy="76.1" r="2.0" stroke="#357868" fill="#357868" fill-opacity="0.3"/>
<circle cx="123.6" cy="273.1" r="2.0" stroke="#ef9132" fill="#ef9132" fill-opacity="0.3"/>
<circle cx="194.0" cy="175.2" r="2.0" stroke="#29a386" fill="#29a386" fill-opacity="0.3"/>
<circle cx="179.4" cy="173.1" r="2.0" stroke="#efb52e" fill="#efb52e" fill-opacity="0.3"/>
<circle cx="208.9" cy="146.3" r="2.0" stroke="#357868" fill="#357868" fill-opacity="0.3"/>
<circle cx="187.0" cy="155.6" r="2.0" stroke="#efb52e" fill="#efb52e" fill-opacity="0.3"/>
<circle cx="157.1" cy="268.2" r="2.0" stroke="#efb52e" fill="#efb52e" fill-opacity="0.3"/>
<circle cx="178.6" cy="156.1" r="2.0" stroke="#efb52e" fill="#efb52e" fill-opacity="0.3"/>
<circle cx="213.4" cy="145.2" r="2.0" stroke="#3aa6e6" fill="#3aa6e6" fill-opacity="0.3"/>
<circle cx="273.1" cy="88.7" r="2.0" stroke="#29a386" fill="#29a386" fill-opacity="0.3"/>
<circle cx="266.7" cy="93.4" r="2.0" stroke="#efb52e" fill="#efb52e" fill-opacity="0.3"/>
<circle cx="145.3" cy="231.7" r="2.0" stroke="#29a386" fill="#29a386" fill-opacity="0.3"/>
<circle cx="131.7" cy="237.6" r="2.0" stroke="#ef9132" fill="#ef9132" fill-opacity="0.3"/>
<circle cx="227.3" cy="86.4" r="2.0" stroke="#735080" fill="#735080" fill-opacity="0.3"/>
<circle cx="289.5" cy="61.6" r="2.0" stroke="#3aa6e6" fill="#3aa6e6" fill-opacity="0.3"/>
<circle cx="166.3" cy="194.0" r="2.0" stroke="#a8363a" fill="#a8363a" fill-opacity="0.3"/>
<circle cx="198.5" cy="112.0" r="2.0" stroke="#29a386" fill="#29a386" fill-opacity="0.3"/>
<circle cx="185.3" cy="136.3" r="2.0" stroke="#735080" fill="#735080" fill-opacity="0.3"/>
<circle cx="194.6" cy="171.2" r="2.0" stroke="#a8363a" fill="#a8363a" fill-opacity="0.3"/>
<circle cx="260.3" cy="68.6" r="2.0" stroke="#a8363a" fill="#a8363a" fill-opacity="0.3"/>
<circle cx="184.6" cy="129.5" r="2.0" stroke="#ef9132" fill="#ef9132" fill-opacity="0.3"/>
<circle cx="154.4" cy="166.4" r="2.0" stroke="#29a386" fill="#29a386" fill-opacity="0.3"/>
<circle cx="185.2" cy="135.9" r="2.0" stroke="#735080" fill="#735080" fill-opacity="0.3"/>
<circle cx="236.5" cy="129.2" r="2.0" stroke="#29a386" fill="#29a386" fill-opacity="0.3"/>
<circle cx="221.8" cy="120.4" r="2.0" stroke="#735080" fill="#735080" fill-opacity="0.3"/>
<circle cx="166.8" cy="166.9" r="2.0" stroke="#efb52e" fill="#efb52e" fill-opacity="0.3"/>
<circle cx="253.6" cy="82.9" r="2.0" stroke="#ef9132" fill="#ef9132" fill-opacity="0.3"/>
<circle cx="90.5" cy="176.5" r="2.0" stroke="#a8363a" fill="#a8363a" fill-opacity="0.3"/>
<circle cx="164.0" cy="182.4" r="2.0" stroke="#29a386" fill="#29a386" fill-opacity="0.3"/>
<circle cx="130.6" cy="202.3" r="2.0" stroke="#735080" fill="#735080" fill-opacity="0.3"/>
<circle cx="217.4" cy="153.7" r="2.0" stroke="#ef9132" fill="#ef9132" fill-opacity="0.3"/>
<circle cx="121.9" cy="231.5" r="2.0" stroke="#a8363a" fill="#a8363a" fill-opacity="0.3"/>
<circle cx="246.4" cy="96.8" r="2.0" stroke="#357868" fill="#357868" fill-opacity="0.3"/>
<circle cx="180.2" cy="153.4" r="2.0" stroke="#735080" fill="#735080" fill-opacity="0.3"/>
<circle cx="52.8" cy="193.3" r="2.0" stroke="#3aa6e6" fill="#3aa6e6" fill-opacity="0.3"/>
<circle cx="255.6" cy="105.1" r="2.0" stroke="#29a386" fill="#29a386" fill-opacity="0.3"/>
<circle cx="154.0" cy="201.1" r="2.0" stroke="#735080" fill="#735080" fill-opacity="0.3"/>
<circle cx="138.2" cy="215.4" r="2.0" stroke="#735080" fill="#735080" fill-opacity="0.3"/>
<circle cx="163.4" cy="153.8" r="2.0" stroke="#a8363a" fill="#a8363a" fill-opacity="0.3"/>
<circle cx="180.0" cy="153.8" r="2.0" stroke="#29a386" fill="#29a386" fill-opacity="0.3"/>
<circle cx="193.4" cy="162.3" r="2.0" stroke="#efb52e" fill="#efb52e" fill-opacity="0.3"/>
<circle cx="114.1" cy="203.3" r="2.0" stroke="#a8363a" fill="#a8363a" fill-opacity="0.3"/>
<circle cx="215.7" cy="124.9" r="2.0" stroke="#357868" fill="#357868" fill-opacity="0.3"/>
<circle cx="218.6" cy="142.5" r="2.0" stroke="#3aa6e6" fill="#3aa6e6" fill-opacity="0.3"/>
<circle cx="166.3" cy="174.3" r="2.0" stroke="#ef9132" fill="#ef9132" fill-opacity="0.3"/>
<circle cx="234.9" cy="99.8" r="2.0" stroke="#a8363a" fill="#a8363a" fill-opacity="0.3"/>
<circle cx="145.5" cy="192.4" r="2.0" stroke="#29a386" fill="#29a386" fill-opacity="0.3"/>
<circle cx="139.8" cy="155.5" r="2.0" stroke="#29a386" fill="#29a386" fill-opacity="0.3"/>
<circle cx="224.4" cy="134.6" r="2.0" stroke="#3aa6e6" fill="#3aa6e6" fill-opacity="0.3"/>
<circle cx="220.8" cy="102.7" r="2.0" stroke="#29a386" fill="#29a386" fill-opacity="0.3"/>
<circle cx="59.8" cy="173.0" r="2.0" stroke="#29a386" fill="#29a386" fill-opacity="0.3"/>
<circle cx="240.9" cy="127.3" r="2.0" stroke="#29a386" fill="#29a386" fill-opacity="0.3"/>
<circle cx="144.1" cy="177.2" r="2.0" stroke="#29a386" fill="#29a386" fill-opacity="0.3"/>
<circle cx="222.7" cy="127.7" r="2.0" stroke="#3aa6e6" fill="#3aa6e6" fill-opacity="0.3"/>
<circle cx="220.8" cy="135.7" r="2.0" stroke="#357868" fill="#357868" fill-opacity="0.3"/>
<circle cx="60.6" cy="230.0" r="2.0" stroke="#ef9132" fill="#ef9132" fill-opacity="0.3"/>
<circle cx="178.1" cy="142.1" r="2.0" stroke="#29a386" fill="#29a386" fill-opacity="0.3"/>
<circle cx="158.0" cy="165.7" r="2.0" stroke="#a8363a" fill="#a8363a" fill-opacity="0.3"/>
<circle cx="239.0" cy="115.3" r="2.0" stroke="#29a386" fill="#29a386" fill-opacity="0.3"/>
<circle cx="198.3" cy="145.6" r="2.0" stroke="#efb52e" fill="#efb52e" fill-opacity="0.3"/>
<circle cx="205.7" cy="163.5" r="2.0" stroke="#a8363a" fill="#a8363a" fill-opacity="0.3"/>
<circle cx="186.8" cy="146.8" r="2.0" stroke="#29a386" fill="#29a386" fill-opacity="0.3"/>
<circle cx="135.0" cy="188.8" r="2.0" stroke="#735080" fill="#735080" fill-opacity="0.3"/>
<circle cx="213.1" cy="117.5" r="2.0" stroke="#29a386" fill="#29a386" fill-opacity="0.3"/>
<circle cx="109.7" cy="241.7" r="2.0" stroke="#29a386" fill="#29a386" fill-opacity="0.3"/>
<circle cx="179.6" cy="166.5" r="2.0" stroke="#29a386" fill="#29a386" fill-opacity="0.3"/>
<circle cx="226.0" cy="116.5" r="2.0" stroke="#efb52e" fill="#efb52e" fill-opacity="0.3"/>
<circle cx="202.2" cy="171.7" r="2.0" stroke="#a8363a" fill="#a8363a" fill-opacity="0.3"/>
<circle cx="130.4" cy="172.5" r="2.0" stroke="#ef9132" fill="#ef9132" fill-opacity="0.3"/>
<circle cx="195.2" cy="183.4" r="2.0" stroke="#357868" fill="#357868" fill-opacity="0.3"/>
<circle cx="176.0" cy="153.3" r="2.0" stroke="#efb52e" fill="#efb52e" fill-opacity="0.3"/>
<circle cx="257.3" cy="109.5" r="2.0" stroke="#ef9132" fill="#ef9132" fill-opacity="0.3"/>
<circle cx="186.2" cy="157.7" r="2.0" stroke="#3aa6e6" fill="#3aa6e6" fill-opacity="0.3"/>
<circle cx="136.7" cy="209.4" r="2.0" stroke="#ef9132" fill="#ef9132" fill-opacity="0.3"/>
<circle cx="216.2" cy="146.8" r="2.0" stroke="#a8363a" fill="#a8363a" fill-opacity="0.3"/>
<circle cx="215.3" cy="116.3" r="2.0" stroke="#3aa6e6" fill="#3aa6e6" fill-opacity="0.3"/>
<circle cx="186.6" cy="163.7" r="2.0" stroke="#a8363a" fill="#a8363a" fill-opacity="0.3"/>
<circle cx="154.5" cy="166.5" r="2.0" stroke="#efb52e" fill="#efb52e" fill-opacity="0.3"/>
<circle cx="271.6" cy="49.3" r="2.0" stroke="#efb52e" fill="#efb52e" fill-opacity="0.3"/>
<circle cx="166.7" cy="235.2" r="2.0" stroke="#29a386" fill="#29a386" fill-opacity="0.3"/>
<circle cx="149.4" cy="171.9" r="2.0" stroke="#ef9132" fill="#ef9132" fill-opacity="0.3"/>
<circle cx="189.6" cy="149.0" r="2.0" stroke="#29a386" fill="#29a386" fill-opacity="0.3"/>
<circle cx="247.7" cy="84.6" r="2.0" stroke="#a8363a" fill="#a8363a" fill-opacity="0.3"/>
<circle cx="229.4" cy="115.6" r="2.0" stroke="#a8363a" fill="#a8363a" fill-opacity="0.3"/>
<circle cx="167.5" cy="180.1" r="2.0" stroke="#735080" fill="#735080" fill-opacity="0.3"/>
<circle cx="177.0" cy="169.6" r="2.0" stroke="#357868" fill="#357868" fill-opacity="0.3"/>
<circle cx="147.6" cy="173.7" r="2.0" stroke="#efb52e" fill="#efb52e" fill-opacity="0.3"/>
<circle cx="200.0" cy="161.8" r="2.0" stroke="#efb52e" fill="#efb52e" fill-opacity="0.3"/>
<circle cx="247.7" cy="102.7" r="2.0" stroke="#29a386" fill="#29a386" fill-opacity="0.3"/>
<circle cx="145.8" cy="220.4" r="2.0" stroke="#735080" fill="#735080" fill-opacity="0.3"/>
<circle cx="267.9" cy="90.5" r="2.0" stroke="#a8363a" fill="#a8363a" fill-opacity="0.3"/>
<circle cx="226.3" cy="109.1" r="2.0" stroke="#a8363a" fill="#a8363a" fill-opacity="0.3"/>
<circle cx="234.2" cy="104.5" r="2.0" stroke="#a8363a" fill="#a8363a" fill-opacity="0.3"/>
<circle cx="250.7" cy="113.2" r="2.0" stroke="#efb52e" fill="#efb52e" fill-opacity="0.3"/>
<circle cx="206.0" cy="126.2" r="2.0" stroke="#a8363a" fill="#a8363a" fill-opacity="0.3"/>
<circle cx="201.2" cy="134.3" r="2.0" stroke="#efb52e" fill="#efb52e" fill-opacity="0.3"/>
<circle cx="86.6" cy="230.3" r="2.0" stroke="#efb52e" fill="#efb52e" fill-opacity="0.3"/>
<circle cx="120.7" cy="216.4" r="2.0" stroke="#29a386" fill="#29a386" fill-opacity="0.3"/>
<circle cx="219.7" cy="118.0" r="2.0" stroke="#ef9132" fill="#ef9132" fill-opacity="0.3"/>
<circle cx="206.3" cy="133.5" r="2.0" stroke="#357868" fill="#357868" fill-opacity="0.3"/>
<circle cx="145.9" cy="203.3" r="2.0" stroke="#efb52e" fill="#efb52e" fill-opacity="0.3"/>
<circle cx="214.2" cy="115.7" r="2.0" stroke="#3aa6e6" fill="#3aa6e6" fill-opacity="0.3"/>
<circle cx="213.2" cy="118.9" r="2.0" stroke="#efb52e" fill="#efb52e" fill-opacity="0.3"/>
<circle cx="252.9" cy="118.3" r="2.0" stroke="#29a386" fill="#29a386" fill-opacity="0.3"/>
<circle cx="216.8" cy="114.7" r="2.0" stroke="#29a386" fill="#29a386" fill-opacity="0.3"/>
<circle cx="139.4" cy="265.8" r="2.0" stroke="#efb52e" fill="#efb52e" fill-opacity="0.3"/>
<circle cx="178.6" cy="194.7" r="2.0" stroke="#efb52e" fill="#efb52e" fill-opacity="0.3"/>
<circle cx="126.5" cy="202.8" r="2.0" stroke="#a8363a" fill="#a8363a" fill-opacity="0.3"/>
<circle cx="136.1" cy="284.1" r="2.0" stroke="#29a386" fill="#29a386" fill-opacity="0.3"/>
<circle cx="180.6" cy="195.3" r="2.0" stroke="#efb52e" fill="#efb52e" fill-opacity="0.3"/>
<circle cx="185.4" cy="170.4" r="2.0" stroke="#29a386" fill="#29a386" fill-opacity="0.3"/>
<circle cx="234.5" cy="121.8" r="2.0" stroke="#3aa6e6" fill="#3aa6e6" fill-opacity="0.3"/>
<circle cx="125.8" cy="221.5" r="2.0" stroke="#29a386" fill="#29a386" fill-opacity="0.3"/>
<circle cx="111.9" cy="130.0" r="2.0" stroke="#ef9132" fill="#ef9132" fill-opacity="0.3"/>
<circle cx="138.2" cy="194.5" r="2.0" stroke="#357868" fill="#357868" fill-opacity="0.3"/>
<circle cx="203.7" cy="136.8" r="2.0" stroke="#3aa6e6" fill="#3aa6e6" fill-opacity="0.3"/>
<circle cx="201.1" cy="181.6" r="2.0" stroke="#735080" fill="#735080" fill-opacity="0.3"/>
<circle cx="245.4" cy="114.7" r="2.0" stroke="#735080" fill="#735080" fill-opacity="0.3"/>
<circle cx="194.9" cy="156.0" r="2.0" stroke="#29a386" fill="#29a386" fill-opacity="0.3"/>
<circle cx="221.8" cy="110.5" r="2.0" stroke="#efb52e" fill="#efb52e" fill-opacity="0.3"/>
<circle cx="223.0" cy="122.5" r="2.0" stroke="#29a386" fill="#29a386" fill-opacity="0.3"/>
<circle cx="235.2" cy="151.8" r="2.0" stroke="#29a386" fill="#29a386" fill-opacity="0.3"/>
<circle cx="157.5" cy="167.2" r="2.0" stroke="#efb52e" fill="#efb52e" fill-opacity="0.3"/>
<circle cx="138.5" cy="248.7" r="2.0" stroke="#29a386" fill="#29a386" fill-opacity="0.3"/>
<circle cx="198.6" cy="156.8" r="2.0" stroke="#efb52e" fill="#efb52e" fill-opacity="0.3"/>
<circle cx="222.0" cy="128.1" r="2.0" stroke="#735080" fill="#735080" fill-opacity="0.3"/>
<circle cx="171.0" cy="168.7" r="2.0" stroke="#29a386" fill="#29a386" fill-opacity="0.3"/>
<circle cx="171.0" cy="185.9" r="2.0" stroke="#a8363a" fill="#a8363a" fill-opacity="0.3"/>
<circle cx="237.2" cy="120.5" r="2.0" stroke="#efb52e" fill="#efb52e" fill-opacity="0.3"/>
<circle cx="152.3" cy="222.9" r="2.0" stroke="#efb52e" fill="#efb52e" fill-opacity="0.3"/>
<circle cx="202.2" cy="177.3" r="2.0" stroke="#29a386" fill="#29a386" fill-opacity="0.3"/>
<circle cx="232.0" cy="128.1" r="2.0" stroke="#735080" fill="#735080" fill-opacity="0.3"/>
<circle cx="195.2" cy="188.7" r="2.0" stroke="#efb52e" fill="#efb52e" fill-opacity="0.3"/>
<circle cx="237.8" cy="105.9" r="2.0" stroke="#29a386" fill="#29a386" fill-opacity="0.3"/>
<circle cx="221.4" cy="117.0" r="2.0" stroke="#29a386" fill="#29a386" fill-opacity="0.3"/>
<circle cx="188.8" cy="203.8" r="2.0" stroke="#a8363a" fill="#a8363a" fill-opacity="0.3"/>
<circle cx="167.5" cy="205.2" r="2.0" stroke="#29a386" fill="#29a386" fill-opacity="0.3"/>
<circle cx="172.2" cy="191.2" r="2.0" stroke="#29a386" fill="#29a386" fill-opacity="0.3"/>
<circle cx="133.6" cy="200.8" r="2.0" stroke="#efb52e" fill="#efb52e" fill-opacity="0.3"/>
<circle cx="248.4" cy="103.7" r="2.0" stroke="#a8363a" fill="#a8363a" fill-opacity="0.3"/>
<circle cx="186.2" cy="128.6" r="2.0" stroke="#efb52e" fill="#efb52e" fill-opacity="0.3"/>
<circle cx="195.8" cy="160.4" r="2.0" stroke="#29a386" fill="#29a386" fill-opacity="0.3"/>
<circle cx="151.1" cy="222.2" r="2.0" stroke="#735080" fill="#735080" fill-opacity="0.3"/>
<circle cx="176.7" cy="149.3" r="2.0" stroke="#357868" fill="#357868" fill-opacity="0.3"/>
<circle cx="255.8" cy="116.1" r="2.0" stroke="#29a386" fill="#29a386" fill-opacity="0.3"/>
<circle cx="142.9" cy="143.1" r="2.0" stroke="#29a386" fill="#29a386" fill-opacity="0.3"/>
<circle cx="160.5" cy="190.6" r="2.0" stroke="#efb52e" fill="#efb52e" fill-opacity="0.3"/>
<circle cx="145.3" cy="176.0" r="2.0" stroke="#357868" fill="#357868" fill-opacity="0.3"/>
<circle cx="216.1" cy="124.9" r="2.0" stroke="#357868" fill="#357868" fill-opacity="0.3"/>
<circle cx="253.0" cy="106.6" r="2.0" stroke="#3aa6e6" fill="#3aa6e6" fill-opacity="0.3"/>
<circle cx="163.1" cy="149.4" r="2.0" stroke="#efb52e" fill="#efb52e" fill-opacity="0.3"/>
<circle cx="209.0" cy="128.6" r="2.0" stroke="#29a386" fill="#29a386" fill-opacity="0.3"/>
<circle cx="184.7" cy="196.3" r="2.0" stroke="#29a386" fill="#29a386" fill-opacity="0.3"/>
<circle cx="206.3" cy="163.1" r="2.0" stroke="#a8363a" fill="#a8363a" fill-opacity="0.3"/>
<circle cx="179.6" cy="156.5" r="2.0" stroke="#a8363a" fill="#a8363a" fill-opacity="0.3"/>
<circle cx="203.9" cy="127.9" r="2.0" stroke="#a8363a" fill="#a8363a" fill-opacity="0.3"/>
<circle cx="181.8" cy="147.3" r="2.0" stroke="#29a386" fill="#29a386" fill-opacity="0.3"/>
<circle cx="98.5" cy="245.8" r="2.0" stroke="#efb52e" fill="#efb52e" fill-opacity="0.3"/>
<circle cx="264.4" cy="98.1" r="2.0" stroke="#a8363a" fill="#a8363a" fill-opacity="0.3"/>
<circle cx="291.3" cy="56.3" r="2.0" stroke="#29a386" fill="#29a386" fill-opacity="0.3"/>
<circle cx="281.7" cy="64.2" r="2.0" stroke="#735080" fill="#735080" fill-opacity="0.3"/>
<circle cx="42.7" cy="201.1" r="2.0" stroke="#357868" fill="#357868" fill-opacity="0.3"/>
<circle cx="211.4" cy="121.0" r="2.0" stroke="#3aa6e6" fill="#3aa6e6" fill-opacity="0.3"/>
<circle cx="198.1" cy="94.5" r="2.0" stroke="#29a386" fill="#29a386" fill-opacity="0.3"/>
<circle cx="195.7" cy="140.8" r="2.0" stroke="#29a386" fill="#29a386" fill-opacity="0.3"/>
<circle cx="208.0" cy="142.0" r="2.0" stroke="#3aa6e6" fill="#3aa6e6" fill-opacity="0.3"/>
<circle cx="172.2" cy="173.1" r="2.0" stroke="#357868" fill="#357868" fill-opacity="0.3"/>
<circle cx="221.8" cy="118.1" r="2.0" stroke="#3aa6e6" fill="#3aa6e6" fill-opacity="0.3"/>
<circle cx="164.0" cy="188.3" r="2.0" stroke="#ef9132" fill="#ef9132" fill-opacity="0.3"/>
<circle cx="159.9" cy="222.0" r="2.0" stroke="#3aa6e6" fill="#3aa6e6" fill-opacity="0.3"/>
<circle cx="171.0" cy="166.6" r="2.0" stroke="#29a386" fill="#29a386" fill-opacity="0.3"/>
<circle cx="241.0" cy="115.5" r="2.0" stroke="#29a386" fill="#29a386" fill-opacity="0.3"/>
<circle cx="91.9" cy="180.9" r="2.0" stroke="#735080" fill="#735080" fill-opacity="0.3"/>
<circle cx="187.7" cy="168.4" r="2.0" stroke="#29a386" fill="#29a386" fill-opacity="0.3"/>
<circle cx="97.0" cy="238.3" r="2.0" stroke="#efb52e" fill="#efb52e" fill-opacity="0.3"/>
<circle cx="172.7" cy="208.7" r="2.0" stroke="#357868" fill="#357868" fill-opacity="0.3"/>
<circle cx="158.7" cy="184.8" r="2.0" stroke="#29a386" fill="#29a386" fill-opacity="0.3"/>
<circle cx="132.4" cy="200.3" r="2.0" stroke="#efb52e" fill="#efb52e" fill-opacity="0.3"/>
<circle cx="173.9" cy="152.0" r="2.0" stroke="#29a386" fill="#29a386" fill-opacity="0.3"/>
<circle cx="266.7" cy="87.0" r="2.0" stroke="#ef9132" fill="#ef9132" fill-opacity="0.3"/>
<circle cx="167.5" cy="162.0" r="2.0" stroke="#29a386" fill="#29a386" fill-opacity="0.3"/>
<circle cx="148.8" cy="214.0" r="2.0" stroke="#735080" fill="#735080" fill-opacity="0.3"/>
<circle cx="240.5" cy="92.1" r="2.0" stroke="#29a386" fill="#29a386" fill-opacity="0.3"/>
<circle cx="216.6" cy="119.2" r="2.0" stroke="#357868" fill="#357868" fill-opacity="0.3"/>
<circle cx="230.9" cy="109.5" r="2.0" stroke="#29a386" fill="#29a386" fill-opacity="0.3"/>
<circle cx="200.5" cy="149.2" r="2.0" stroke="#efb52e" fill="#efb52e" fill-opacity="0.3"/>
<circle cx="191.7" cy="147.1" r="2.0" stroke="#a8363a" fill="#a8363a" fill-opacity="0.3"/>
<circle cx="214.5" cy="141.5" r="2.0" stroke="#ef9132" fill="#ef9132" fill-opacity="0.3"/>
<circle cx="244.5" cy="121.1" r="2.0" stroke="#efb52e" fill="#efb52e" fill-opacity="0.3"/>
<circle cx="218.6" cy="139.7" r="2.0" stroke="#29a386" fill="#29a386" fill-opacity="0.3"/>
<circle cx="74.7" cy="268.0" r="2.0" stroke="#efb52e" fill="#efb52e" fill-opacity="0.3"/>
<circle cx="193.8" cy="129.7" r="2.0" stroke="#29a386" fill="#29a386" fill-opacity="0.3"/>
<circle cx="178.0" cy="203.5" r="2.0" stroke="#3aa6e6" fill="#3aa6e6" fill-opacity="0.3"/>
<circle cx="214.3" cy="137.4" r="2.0" stroke="#efb52e" fill="#efb52e" fill-opacity="0.3"/>
<circle cx="186.8" cy="135.1" r="2.0" stroke="#357868" fill="#357868" fill-opacity="0.3"/>
<circle cx="218.6" cy="150.8" r="2.0" stroke="#29a386" fill="#29a386" fill-opacity="0.3"/>
<circle cx="189.9" cy="132.4" r="2.0" stroke="#a8363a" fill="#a8363a" fill-opacity="0.3"/>
<circle cx="218.8" cy="122.9" r="2.0" stroke="#efb52e" fill="#efb52e" fill-opacity="0.3"/>
<circle cx="187.0" cy="181.0" r="2.0" stroke="#a8363a" fill="#a8363a" fill-opacity="0.3"/>
<circle cx="212.7" cy="122.3" r="2.0" stroke="#735080" fill="#735080" fill-opacity="0.3"/>
<circle cx="142.3" cy="195.9" r="2.0" stroke="#a8363a" fill="#a8363a" fill-opacity="0.3"/>
<circle cx="214.9" cy="113.5" r="2.0" stroke="#a8363a" fill="#a8363a" fill-opacity="0.3"/>
<circle cx="103.5" cy="213.7" r="2.0" stroke="#efb52e" fill="#efb52e" fill-opacity="0.3"/>
<circle cx="295.6" cy="56.1" r="2.0" stroke="#357868" fill="#357868" fill-opacity="0.3"/>
<circle cx="199.9" cy="161.5" r="2.0" stroke="#29a386" fill="#29a386" fill-opacity="0.3"/>
<circle cx="270.2" cy="89.6" r="2.0" stroke="#29a386" fill="#29a386" fill-opacity="0.3"/>
<circle cx="52.5" cy="230.3" r="2.0" stroke="#efb52e" fill="#efb52e" fill-opacity="0.3"/>
<circle cx="220.3" cy="118.3" r="2.0" stroke="#3aa6e6" fill="#3aa6e6" fill-opacity="0.3"/>
<circle cx="100.5" cy="197.4" r="2.0" stroke="#735080" fill="#735080" fill-opacity="0.3"/>
<circle cx="157.5" cy="221.0" r="2.0" stroke="#3aa6e6" fill="#3aa6e6" fill-opacity="0.3"/>
<circle cx="193.5" cy="171.7" r="2.0" stroke="#3aa6e6" fill="#3aa6e6" fill-opacity="0.3"/>
<circle cx="175.8" cy="179.8" r="2.0" stroke="#efb52e" fill="#efb52e" fill-opacity="0.3"/>
<circle cx="206.3" cy="151.2" r="2.0" stroke="#735080" fill="#735080" fill-opacity="0.3"/>
<circle cx="139.8" cy="189.0" r="2.0" stroke="#29a386" fill="#29a386" fill-opacity="0.3"/>
<circle cx="173.8" cy="158.4" r="2.0" stroke="#efb52e" fill="#efb52e" fill-opacity="0.3"/>
<circle cx="211.7" cy="142.1" r="2.0" stroke="#a8363a" fill="#a8363a" fill-opacity="0.3"/>
<circle cx="180.4" cy="153.0" r="2.0" stroke="#efb52e" fill="#efb52e" fill-opacity="0.3"/>
<circle cx="218.3" cy="96.8" r="2.0" stroke="#efb52e" fill="#efb52e" fill-opacity="0.3"/>
<circle cx="81.0" cy="208.1" r="2.0" stroke="#29a386" fill="#29a386" fill-opacity="0.3"/>
<circle cx="154.6" cy="191.3" r="2.0" stroke="#29a386" fill="#29a386" fill-opacity="0.3"/>
<circle cx="120.7" cy="213.5" r="2.0" stroke="#ef9132" fill="#ef9132" fill-opacity="0.3"/>
<circle cx="227.9" cy="81.1" r="2.0" stroke="#a8363a" fill="#a8363a" fill-opacity="0.3"/>
<circle cx="217.2" cy="128.6" r="2.0" stroke="#29a386" fill="#29a386" fill-opacity="0.3"/>
<circle cx="144.7" cy="203.5" r="2.0" stroke="#a8363a" fill="#a8363a" fill-opacity="0.3"/>
<circle cx="160.5" cy="171.9" r="2.0" stroke="#29a386" fill="#29a386" fill-opacity="0.3"/>
<circle cx="170.0" cy="188.0" r="2.0" stroke="#357868" fill="#357868" fill-opacity="0.3"/>
<circle cx="82.2" cy="194.6" r="2.0" stroke="#735080" fill="#735080" fill-opacity="0.3"/>
<circle cx="139.4" cy="254.1" r="2.0" stroke="#efb52e" fill="#efb52e" fill-opacity="0.3"/>
<circle cx="240.7" cy="102.7" r="2.0" stroke="#a8363a" fill="#a8363a" fill-opacity="0.3"/>
<circle cx="169.8" cy="178.9" r="2.0" stroke="#3aa6e6" fill="#3aa6e6" fill-opacity="0.3"/>
<circle cx="248.5" cy="113.3" r="2.0" stroke="#efb52e" fill="#efb52e" fill-opacity="0.3"/>
<circle cx="245.3" cy="106.9" r="2.0" stroke="#29a386" fill="#29a386" fill-opacity="0.3"/>
<circle cx="277.5" cy="79.1" r="2.0" stroke="#efb52e" fill="#efb52e" fill-opacity="0.3"/>
<circle cx="210.6" cy="118.2" r="2.0" stroke="#3aa6e6" fill="#3aa6e6" fill-opacity="0.3"/>
<circle cx="253.0" cy="96.3" r="2.0" stroke="#efb52e" fill="#efb52e" fill-opacity="0.3"/>
<circle cx="201.0" cy="130.5" r="2.0" stroke="#efb52e" fill="#efb52e" fill-opacity="0.3"/>
<circle cx="178.8" cy="138.4" r="2.0" stroke="#a8363a" fill="#a8363a" fill-opacity="0.3"/>
<circle cx="218.3" cy="122.7" r="2.0" stroke="#357868" fill="#357868" fill-opacity="0.3"/>
<circle cx="151.1" cy="180.7" r="2.0" stroke="#357868" fill="#357868" fill-opacity="0.3"/>
<circle cx="235.5" cy="85.2" r="2.0" stroke="#29a386" fill="#29a386" fill-opacity="0.3"/>
<circle cx="176.3" cy="198.2" r="2.0" stroke="#a8363a" fill="#a8363a" fill-opacity="0.3"/>
<circle cx="122.5" cy="167.0" r="2.0" stroke="#735080" fill="#735080" fill-opacity="0.3"/>
<circle cx="184.7" cy="169.4" r="2.0" stroke="#735080" fill="#735080" fill-opacity="0.3"/>
<circle cx="169.6" cy="187.8" r="2.0" stroke="#efb52e" fill="#efb52e" fill-opacity="0.3"/>
<circle cx="228.9" cy="101.2" r="2.0" stroke="#29a386" fill="#29a386" fill-opacity="0.3"/>
<circle cx="187.0" cy="182.8" r="2.0" stroke="#29a386" fill="#29a386" fill-opacity="0.3"/>
<circle cx="247.9" cy="107.9" r="2.0" stroke="#357868" fill="#357868" fill-opacity="0.3"/>
<circle cx="208.1" cy="153.7" r="2.0" stroke="#735080" fill="#735080" fill-opacity="0.3"/>
<circle cx="193.6" cy="125.6" r="2.0" stroke="#3aa6e6" fill="#3aa6e6" fill-opacity="0.3"/>
<circle cx="172.1" cy="154.6" r="2.0" stroke="#efb52e" fill="#efb52e" fill-opacity="0.3"/>
<circle cx="136.8" cy="217.5" r="2.0" stroke="#357868" fill="#357868" fill-opacity="0.3"/>
<circle cx="165.2" cy="178.2" r="2.0" stroke="#29a386" fill="#29a386" fill-opacity="0.3"/>
<circle cx="169.8" cy="194.7" r="2.0" stroke="#357868" fill="#357868" fill-opacity="0.3"/>
<circle cx="155.2" cy="181.8" r="2.0" stroke="#a8363a" fill="#a8363a" fill-opacity="0.3"/>
<circle cx="232.5" cy="106.7" r="2.0" stroke="#3aa6e6" fill="#3aa6e6" fill-opacity="0.3"/>
<circle cx="206.3" cy="139.0" r="2.0" stroke="#29a386" fill="#29a386" fill-opacity="0.3"/>
<circle cx="252.4" cy="127.0" r="2.0" stroke="#a8363a" fill="#a8363a" fill-opacity="0.3"/>
<circle cx="183.5" cy="162.2" r="2.0" stroke="#29a386" fill="#29a386" fill-opacity="0.3"/>
<circle cx="202.5" cy="135.0" r="2.0" stroke="#3aa6e6" fill="#3aa6e6" fill-opacity="0.3"/>
<circle cx="240.1" cy="100.3" r="2.0" stroke="#357868" fill="#357868" fill-opacity="0.3"/>
<circle cx="161.6" cy="176.6" r="2.0" stroke="#735080" fill="#735080" fill-opacity="0.3"/>
<circle cx="103.7" cy="176.8" r="2.0" stroke="#efb52e" fill="#efb52e" fill-opacity="0.3"/>
<circle cx="233.7" cy="130.5" r="2.0" stroke="#a8363a" fill="#a8363a" fill-opacity="0.3"/>
<circle cx="67.7" cy="231.5" r="2.0" stroke="#ef9132" fill="#ef9132" fill-opacity="0.3"/>
<circle cx="136.0" cy="198.0" r="2.0" stroke="#efb52e" fill="#efb52e" fill-opacity="0.3"/>
<circle cx="139.0" cy="199.3" r="2.0" stroke="#a8363a" fill="#a8363a" fill-opacity="0.3"/>
<circle cx="200.3" cy="151.7" r="2.0" stroke="#357868" fill="#357868" fill-opacity="0.3"/>
<circle cx="219.5" cy="119.0" r="2.0" stroke="#a8363a" fill="#a8363a" fill-opacity="0.3"/>
<circle cx="166.9" cy="210.5" r="2.0" stroke="#29a386" fill="#29a386" fill-opacity="0.3"/>
<circle cx="216.6" cy="96.5" r="2.0" stroke="#357868" fill="#357868" fill-opacity="0.3"/>
<circle cx="139.0" cy="241.0" r="2.0" stroke="#efb52e" fill="#efb52e" fill-opacity="0.3"/>
<circle cx="172.2" cy="217.5" r="2.0" stroke="#357868" fill="#357868" fill-opacity="0.3"/>
<circle cx="71.0" cy="223.0" r="2.0" stroke="#735080" fill="#735080" fill-opacity="0.3"/>
<circle cx="193.4" cy="147.1" r="2.0" stroke="#3aa6e6" fill="#3aa6e6" fill-opacity="0.3"/>
<circle cx="175.7" cy="153.2" r="2.0" stroke="#357868" fill="#357868" fill-opacity="0.3"/>
<circle cx="175.7" cy="218.1" r="2.0" stroke="#29a386" fill="#29a386" fill-opacity="0.3"/>
<circle cx="261.4" cy="98.7" r="2.0" stroke="#735080" fill="#735080" fill-opacity="0.3"/>
<circle cx="170.4" cy="168.5" r="2.0" stroke="#357868" fill="#357868" fill-opacity="0.3"/>
<circle cx="160.5" cy="180.1" r="2.0" stroke="#735080" fill="#735080" fill-opacity="0.3"/>
<circle cx="159.3" cy="255.7" r="2.0" stroke="#ef9132" fill="#ef9132" fill-opacity="0.3"/>
<circle cx="190.5" cy="152.5" r="2.0" stroke="#29a386" fill="#29a386" fill-opacity="0.3"/>
<circle cx="78.3" cy="237.0" r="2.0" stroke="#ef9132" fill="#ef9132" fill-opacity="0.3"/>
<circle cx="172.2" cy="143.6" r="2.0" stroke="#ef9132" fill="#ef9132" fill-opacity="0.3"/>
<circle cx="179.7" cy="171.5" r="2.0" stroke="#efb52e" fill="#efb52e" fill-opacity="0.3"/>
<circle cx="193.5" cy="179.3" r="2.0" stroke="#3aa6e6" fill="#3aa6e6" fill-opacity="0.3"/>
<circle cx="177.6" cy="172.2" r="2.0" stroke="#ef9132" fill="#ef9132" fill-opacity="0.3"/>
<circle cx="141.8" cy="241.6" r="2.0" stroke="#efb52e" fill="#efb52e" fill-opacity="0.3"/>
<circle cx="191.7" cy="164.7" r="2.0" stroke="#357868" fill="#357868" fill-opacity="0.3"/>
<circle cx="202.5" cy="123.9" r="2.0" stroke="#29a386" fill="#29a386" fill-opacity="0.3"/>
<circle cx="132.4" cy="241.0" r="2.0" stroke="#29a386" fill="#29a386" fill-opacity="0.3"/>
<circle cx="222.4" cy="132.1" r="2.0" stroke="#3aa6e6" fill="#3aa6e6" fill-opacity="0.3"/>
<circle cx="212.2" cy="185.1" r="2.0" stroke="#efb52e" fill="#efb52e" fill-opacity="0.3"/>
<circle cx="201.1" cy="215.5" r="2.0" stroke="#357868" fill="#357868" fill-opacity="0.3"/>
<circle cx="199.3" cy="160.0" r="2.0" stroke="#735080" fill="#735080" fill-opacity="0.3"/>
<circle cx="138.2" cy="223.0" r="2.0" stroke="#efb52e" fill="#efb52e" fill-opacity="0.3"/>
<circle cx="147.0" cy="187.7" r="2.0" stroke="#3aa6e6" fill="#3aa6e6" fill-opacity="0.3"/>
<circle cx="178.6" cy="157.9" r="2.0" stroke="#3aa6e6" fill="#3aa6e6" fill-opacity="0.3"/>
<circle cx="155.8" cy="175.4" r="2.0" stroke="#efb52e" fill="#efb52e" fill-opacity="0.3"/>
<circle cx="175.1" cy="160.2" r="2.0" stroke="#efb52e" fill="#efb52e" fill-opacity="0.3"/>
<circle cx="235.5" cy="124.6" r="2.0" stroke="#efb52e" fill="#efb52e" fill-opacity="0.3"/>
<circle cx="253.0" cy="118.2" r="2.0" stroke="#29a386" fill="#29a386" fill-opacity="0.3"/>
<circle cx="232.5" cy="112.9" r="2.0" stroke="#357868" fill="#357868" fill-opacity="0.3"/>
<circle cx="185.1" cy="154.8" r="2.0" stroke="#29a386" fill="#29a386" fill-opacity="0.3"/>
<circle cx="188.7" cy="129.1" r="2.0" stroke="#ef9132" fill="#ef9132" fill-opacity="0.3"/>
<circle cx="142.9" cy="228.0" r="2.0" stroke="#efb52e" fill="#efb52e" fill-opacity="0.3"/>
<circle cx="184.4" cy="219.0" r="2.0" stroke="#29a386" fill="#29a386" fill-opacity="0.3"/>
<circle cx="171.6" cy="151.9" r="2.0" stroke="#357868" fill="#357868" fill-opacity="0.3"/>
<circle cx="251.3" cy="99.2" r="2.0" stroke="#29a386" fill="#29a386" fill-opacity="0.3"/>
<circle cx="197.4" cy="164.8" r="2.0" stroke="#357868" fill="#357868" fill-opacity="0.3"/>
<circle cx="256.8" cy="92.8" r="2.0" stroke="#29a386" fill="#29a386" fill-opacity="0.3"/>
<circle cx="220.3" cy="155.3" r="2.0" stroke="#a8363a" fill="#a8363a" fill-opacity="0.3"/>
<circle cx="46.7" cy="172.5" r="2.0" stroke="#735080" fill="#735080" fill-opacity="0.3"/>
<circle cx="266.7" cy="80.5" r="2.0" stroke="#357868" fill="#357868" fill-opacity="0.3"/>
<circle cx="154.6" cy="204.6" r="2.0" stroke="#357868" fill="#357868" fill-opacity="0.3"/>
<circle cx="197.7" cy="128.0" r="2.0" stroke="#efb52e" fill="#efb52e" fill-opacity="0.3"/>
<circle cx="271.4" cy="79.1" r="2.0" stroke="#ef9132" fill="#ef9132" fill-opacity="0.3"/>
<circle cx="197.5" cy="153.9" r="2.0" stroke="#29a386" fill="#29a386" fill-opacity="0.3"/>
<circle cx="197.9" cy="133.3" r="2.0" stroke="#735080" fill="#735080" fill-opacity="0.3"/>
<circle cx="176.3" cy="179.8" r="2.0" stroke="#ef9132" fill="#ef9132" fill-opacity="0.3"/>
<circle cx="192.0" cy="166.8" r="2.0" stroke="#29a386" fill="#29a386" fill-opacity="0.3"/>
<circle cx="236.6" cy="103.9" r="2.0" stroke="#3aa6e6" fill="#3aa6e6" fill-opacity="0.3"/>
<circle cx="246.9" cy="121.6" r="2.0" stroke="#efb52e" fill="#efb52e" fill-opacity="0.3"/>
<circle cx="111.6" cy="189.0" r="2.0" stroke="#a8363a" fill="#a8363a" fill-opacity="0.3"/>
<circle cx="123.9" cy="208.7" r="2.0" stroke="#efb52e" fill="#efb52e" fill-opacity="0.3"/>
<circle cx="218.9" cy="135.6" r="2.0" stroke="#29a386" fill="#29a386" fill-opacity="0.3"/>
<circle cx="171.0" cy="147.3" r="2.0" stroke="#efb52e" fill="#efb52e" fill-opacity="0.3"/>
<circle cx="207.2" cy="121.0" r="2.0" stroke="#29a386" fill="#29a386" fill-opacity="0.3"/>
<circle cx="155.8" cy="181.0" r="2.0" stroke="#29a386" fill="#29a386" fill-opacity="0.3"/>
<circle cx="176.3" cy="211.7" r="2.0" stroke="#ef9132" fill="#ef9132" fill-opacity="0.3"/>
<circle cx="177.4" cy="170.7" r="2.0" stroke="#efb52e" fill="#efb52e" fill-opacity="0.3"/>
<circle cx="179.5" cy="142.6" r="2.0" stroke="#a8363a" fill="#a8363a" fill-opacity="0.3"/>
<circle cx="162.8" cy="179.5" r="2.0" stroke="#29a386" fill="#29a386" fill-opacity="0.3"/>
<circle cx="189.0" cy="139.8" r="2.0" stroke="#efb52e" fill="#efb52e" fill-opacity="0.3"/>
<circle cx="188.8" cy="140.3" r="2.0" stroke="#efb52e" fill="#efb52e" fill-opacity="0.3"/>
<circle cx="246.6" cy="111.2" r="2.0" stroke="#efb52e" fill="#efb52e" fill-opacity="0.3"/>
<circle cx="219.9" cy="116.2" r="2.0" stroke="#efb52e" fill="#efb52e" fill-opacity="0.3"/>
<circle cx="238.8" cy="115.4" r="2.0" stroke="#a8363a" fill="#a8363a" fill-opacity="0.3"/>
<circle cx="175.1" cy="180.1" r="2.0" stroke="#a8363a" fill="#a8363a" fill-opacity="0.3"/>
<circle cx="181.7" cy="167.6" r="2.0" stroke="#efb52e" fill="#efb52e" fill-opacity="0.3"/>
<circle cx="218.3" cy="130.6" r="2.0" stroke="#a8363a" fill="#a8363a" fill-opacity="0.3"/>
<circle cx="175.1" cy="185.9" r="2.0" stroke="#29a386" fill="#29a386" fill-opacity="0.3"/>
<circle cx="222.4" cy="127.4" r="2.0" stroke="#357868" fill="#357868" fill-opacity="0.3"/>
<circle cx="188.7" cy="167.5" r="2.0" stroke="#3aa6e6" fill="#3aa6e6" fill-opacity="0.3"/>
<circle cx="176.3" cy="220.5" r="2.0" stroke="#29a386" fill="#29a386" fill-opacity="0.3"/>
<circle cx="233.5" cy="75.3" r="2.0" stroke="#efb52e" fill="#efb52e" fill-opacity="0.3"/>
<circle cx="64.7" cy="208.4" r="2.0" stroke="#efb52e" fill="#efb52e" fill-opacity="0.3"/>
<circle cx="250.7" cy="112.9" r="2.0" stroke="#efb52e" fill="#efb52e" fill-opacity="0.3"/>
<circle cx="230.2" cy="105.7" r="2.0" stroke="#efb52e" fill="#efb52e" fill-opacity="0.3"/>
<circle cx="212.5" cy="128.0" r="2.0" stroke="#efb52e" fill="#efb52e" fill-opacity="0.3"/>
<circle cx="143.4" cy="185.4" r="2.0" stroke="#357868" fill="#357868" fill-opacity="0.3"/>
<circle cx="223.6" cy="102.3" r="2.0" stroke="#ef9132" fill="#ef9132" fill-opacity="0.3"/>
<circle cx="270.0" cy="104.9" r="2.0" stroke="#a8363a" fill="#a8363a" fill-opacity="0.3"/>
<circle cx="241.0" cy="107.9" r="2.0" stroke="#ef9132" fill="#ef9132" fill-opacity="0.3"/>
<circle cx="182.3" cy="178.7" r="2.0" stroke="#3aa6e6" fill="#3aa6e6" fill-opacity="0.3"/>
<circle cx="134.6" cy="234.0" r="2.0" stroke="#357868" fill="#357868" fill-opacity="0.3"/>
<circle cx="186.3" cy="158.1" r="2.0" stroke="#a8363a" fill="#a8363a" fill-opacity="0.3"/>
<circle cx="191.4" cy="157.8" r="2.0" stroke="#29a386" fill="#29a386" fill-opacity="0.3"/>
<circle cx="164.6" cy="169.6" r="2.0" stroke="#29a386" fill="#29a386" fill-opacity="0.3"/>
<circle cx="154.3" cy="193.0" r="2.0" stroke="#efb52e" fill="#efb52e" fill-opacity="0.3"/>
<circle cx="171.3" cy="227.3" r="2.0" stroke="#a8363a" fill="#a8363a" fill-opacity="0.3"/>
<circle cx="114.9" cy="198.6" r="2.0" stroke="#735080" fill="#735080" fill-opacity="0.3"/>
<circle cx="228.5" cy="116.8" r="2.0" stroke="#a8363a" fill="#a8363a" fill-opacity="0.3"/>
<circle cx="240.1" cy="123.5" r="2.0" stroke="#29a386" fill="#29a386" fill-opacity="0.3"/>
<circle cx="205.1" cy="191.6" r="2.0" stroke="#29a386" fill="#29a386" fill-opacity="0.3"/>
<circle cx="196.9" cy="148.2" r="2.0" stroke="#efb52e" fill="#efb52e" fill-opacity="0.3"/>
<circle cx="72.1" cy="176.8" r="2.0" stroke="#29a386" fill="#29a386" fill-opacity="0.3"/>
<circle cx="206.3" cy="154.3" r="2.0" stroke="#735080" fill="#735080" fill-opacity="0.3"/>
<circle cx="80.7" cy="240.0" r="2.0" stroke="#efb52e" fill="#efb52e" fill-opacity="0.3"/>
<circle cx="133.9" cy="223.0" r="2.0" stroke="#a8363a" fill="#a8363a" fill-opacity="0.3"/>
<circle cx="201.9" cy="148.2" r="2.0" stroke="#3aa6e6" fill="#3aa6e6" fill-opacity="0.3"/>
<circle cx="195.2" cy="224.8" r="2.0" stroke="#efb52e" fill="#efb52e" fill-opacity="0.3"/>
<circle cx="180.4" cy="149.8" r="2.0" stroke="#efb52e" fill="#efb52e" fill-opacity="0.3"/>
<circle cx="179.8" cy="162.7" r="2.0" stroke="#3aa6e6" fill="#3aa6e6" fill-opacity="0.3"/>
<circle cx="124.8" cy="217.2" r="2.0" stroke="#efb52e" fill="#efb52e" fill-opacity="0.3"/>
<circle cx="137.8" cy="190.4" r="2.0" stroke="#3aa6e6" fill="#3aa6e6" fill-opacity="0.3"/>
<circle cx="254.2" cy="80.5" r="2.0" stroke="#ef9132" fill="#ef9132" fill-opacity="0.3"/>
<circle cx="180.3" cy="177.7" r="2.0" stroke="#29a386" fill="#29a386" fill-opacity="0.3"/>
<circle cx="181.9" cy="160.2" r="2.0" stroke="#efb52e" fill="#efb52e" fill-opacity="0.3"/>
<circle cx="82.6" cy="238.5" r="2.0" stroke="#efb52e" fill="#efb52e" fill-opacity="0.3"/>
<circle cx="203.4" cy="154.3" r="2.0" stroke="#735080" fill="#735080" fill-opacity="0.3"/>
<circle cx="162.0" cy="152.8" r="2.0" stroke="#a8363a" fill="#a8363a" fill-opacity="0.3"/>
<circle cx="214.8" cy="130.3" r="2.0" stroke="#3aa6e6" fill="#3aa6e6" fill-opacity="0.3"/>
<circle cx="212.7" cy="162.3" r="2.0" stroke="#29a386" fill="#29a386" fill-opacity="0.3"/>
<circle cx="226.7" cy="122.9" r="2.0" stroke="#29a386" fill="#29a386" fill-opacity="0.3"/>
<circle cx="256.6" cy="121.6" r="2.0" stroke="#a8363a" fill="#a8363a" fill-opacity="0.3"/>
<circle cx="193.9" cy="127.9" r="2.0" stroke="#efb52e" fill="#efb52e" fill-opacity="0.3"/>
<circle cx="210.1" cy="122.1" r="2.0" stroke="#29a386" fill="#29a386" fill-opacity="0.3"/>
<circle cx="129.5" cy="219.4" r="2.0" stroke="#357868" fill="#357868" fill-opacity="0.3"/>
<circle cx="73.0" cy="189.5" r="2.0" stroke="#ef9132" fill="#ef9132" fill-opacity="0.3"/>
<circle cx="203.2" cy="143.8" r="2.0" stroke="#735080" fill="#735080" fill-opacity="0.3"/>
<circle cx="189.0" cy="109.5" r="2.0" stroke="#efb52e" fill="#efb52e" fill-opacity="0.3"/>
<circle cx="250.7" cy="122.7" r="2.0" stroke="#29a386" fill="#29a386" fill-opacity="0.3"/>
<circle cx="142.9" cy="190.6" r="2.0" stroke="#735080" fill="#735080" fill-opacity="0.3"/>
<circle cx="242.0" cy="121.9" r="2.0" stroke="#a8363a" fill="#a8363a" fill-opacity="0.3"/>
</g>
<g clip-path="url(#c)">
<line x1="-7.17" y1="351.35" x2="390.97" y2="-43.45" stroke="#111" stroke-width="1.0"/>
</g>
<rect x="42.60" y="5.90" width="298.60" height="296.10" fill="none" stroke="#2a2a2a" stroke-width="1.05"/>
<path d="M42.60 302.00v-3.00M42.60 5.90v3.00M42.60 302.00h3.00M341.20 302.00h-3.00M57.58 302.00v-1.80M57.58 5.90v1.80M42.60 287.14h1.80M341.20 287.14h-1.80M66.34 302.00v-1.80M66.34 5.90v1.80M42.60 278.45h1.80M341.20 278.45h-1.80M72.56 302.00v-1.80M72.56 5.90v1.80M42.60 272.29h1.80M341.20 272.29h-1.80M77.39 302.00v-1.80M77.39 5.90v1.80M42.60 267.51h1.80M341.20 267.51h-1.80M81.33 302.00v-1.80M81.33 5.90v1.80M42.60 263.60h1.80M341.20 263.60h-1.80M84.66 302.00v-1.80M84.66 5.90v1.80M42.60 260.29h1.80M341.20 260.29h-1.80M87.54 302.00v-1.80M87.54 5.90v1.80M42.60 257.43h1.80M341.20 257.43h-1.80M90.09 302.00v-1.80M90.09 5.90v1.80M42.60 254.91h1.80M341.20 254.91h-1.80M92.37 302.00v-3.00M92.37 5.90v3.00M42.60 252.65h3.00M341.20 252.65h-3.00M107.35 302.00v-1.80M107.35 5.90v1.80M42.60 237.79h1.80M341.20 237.79h-1.80M116.11 302.00v-1.80M116.11 5.90v1.80M42.60 229.10h1.80M341.20 229.10h-1.80M122.33 302.00v-1.80M122.33 5.90v1.80M42.60 222.94h1.80M341.20 222.94h-1.80M127.15 302.00v-1.80M127.15 5.90v1.80M42.60 218.16h1.80M341.20 218.16h-1.80M131.09 302.00v-1.80M131.09 5.90v1.80M42.60 214.25h1.80M341.20 214.25h-1.80M134.42 302.00v-1.80M134.42 5.90v1.80M42.60 210.94h1.80M341.20 210.94h-1.80M137.31 302.00v-1.80M137.31 5.90v1.80M42.60 208.08h1.80M341.20 208.08h-1.80M139.86 302.00v-1.80M139.86 5.90v1.80M42.60 205.56h1.80M341.20 205.56h-1.80M142.13 302.00v-3.00M142.13 5.90v3.00M42.60 203.30h3.00M341.20 203.30h-3.00M157.11 302.00v-1.80M157.11 5.90v1.80M42.60 188.44h1.80M341.20 188.44h-1.80M165.88 302.00v-1.80M165.88 5.90v1.80M42.60 179.75h1.80M341.20 179.75h-1.80M172.10 302.00v-1.80M172.10 5.90v1.80M42.60 173.59h1.80M341.20 173.59h-1.80M176.92 302.00v-1.80M176.92 5.90v1.80M42.60 168.81h1.80M341.20 168.81h-1.80M180.86 302.00v-1.80M180.86 5.90v1.80M42.60 164.90h1.80M341.20 164.90h-1.80M184.19 302.00v-1.80M184.19 5.90v1.80M42.60 161.59h1.80M341.20 161.59h-1.80M187.08 302.00v-1.80M187.08 5.90v1.80M42.60 158.73h1.80M341.20 158.73h-1.80M189.62 302.00v-1.80M189.62 5.90v1.80M42.60 156.21h1.80M341.20 156.21h-1.80M191.90 302.00v-3.00M191.90 5.90v3.00M42.60 153.95h3.00M341.20 153.95h-3.00M206.88 302.00v-1.80M206.88 5.90v1.80M42.60 139.09h1.80M341.20 139.09h-1.80M215.64 302.00v-1.80M215.64 5.90v1.80M42.60 130.40h1.80M341.20 130.40h-1.80M221.86 302.00v-1.80M221.86 5.90v1.80M42.60 124.24h1.80M341.20 124.24h-1.80M226.69 302.00v-1.80M226.69 5.90v1.80M42.60 119.46h1.80M341.20 119.46h-1.80M230.63 302.00v-1.80M230.63 5.90v1.80M42.60 115.55h1.80M341.20 115.55h-1.80M233.96 302.00v-1.80M233.96 5.90v1.80M42.60 112.24h1.80M341.20 112.24h-1.80M236.84 302.00v-1.80M236.84 5.90v1.80M42.60 109.38h1.80M341.20 109.38h-1.80M239.39 302.00v-1.80M239.39 5.90v1.80M42.60 106.86h1.80M341.20 106.86h-1.80M241.67 302.00v-3.00M241.67 5.90v3.00M42.60 104.60h3.00M341.20 104.60h-3.00M256.65 302.00v-1.80M256.65 5.90v1.80M42.60 89.74h1.80M341.20 89.74h-1.80M265.41 302.00v-1.80M265.41 5.90v1.80M42.60 81.05h1.80M341.20 81.05h-1.80M271.63 302.00v-1.80M271.63 5.90v1.80M42.60 74.89h1.80M341.20 74.89h-1.80M276.45 302.00v-1.80M276.45 5.90v1.80M42.60 70.11h1.80M341.20 70.11h-1.80M280.39 302.00v-1.80M280.39 5.90v1.80M42.60 66.20h1.80M341.20 66.20h-1.80M283.72 302.00v-1.80M283.72 5.90v1.80M42.60 62.89h1.80M341.20 62.89h-1.80M286.61 302.00v-1.80M286.61 5.90v1.80M42.60 60.03h1.80M341.20 60.03h-1.80M289.16 302.00v-1.80M289.16 5.90v1.80M42.60 57.51h1.80M341.20 57.51h-1.80M291.43 302.00v-3.00M291.43 5.90v3.00M42.60 55.25h3.00M341.20 55.25h-3.00M306.41 302.00v-1.80M306.41 5.90v1.80M42.60 40.39h1.80M341.20 40.39h-1.80M315.18 302.00v-1.80M315.18 5.90v1.80M42.60 31.70h1.80M341.20 31.70h-1.80M321.40 302.00v-1.80M321.40 5.90v1.80M42.60 25.54h1.80M341.20 25.54h-1.80M326.22 302.00v-1.80M326.22 5.90v1.80M42.60 20.76h1.80M341.20 20.76h-1.80M330.16 302.00v-1.80M330.16 5.90v1.80M42.60 16.85h1.80M341.20 16.85h-1.80M333.49 302.00v-1.80M333.49 5.90v1.80M42.60 13.54h1.80M341.20 13.54h-1.80M336.38 302.00v-1.80M336.38 5.90v1.80M42.60 10.68h1.80M341.20 10.68h-1.80M338.92 302.00v-1.80M338.92 5.90v1.80M42.60 8.16h1.80M341.20 8.16h-1.80" stroke="#222" stroke-width="0.9" fill="none"/>
<text x="36.7" y="303.8" font-size="11" text-anchor="end">10<tspan font-size="6.8" dx="0.5" dy="-3.3">4</tspan></text>
<text x="36.7" y="258.6" font-size="11" text-anchor="end">10<tspan font-size="6.8" dx="0.5" dy="-3.3">5</tspan></text>
<text x="36.7" y="205.4" font-size="11" text-anchor="end">10<tspan font-size="6.8" dx="0.5" dy="-3.3">6</tspan></text>
<text x="36.7" y="160.4" font-size="11" text-anchor="end">10<tspan font-size="6.8" dx="0.5" dy="-3.3">7</tspan></text>
<text x="36.7" y="110.8" font-size="11" text-anchor="end">10<tspan font-size="6.8" dx="0.5" dy="-3.3">8</tspan></text>
<text x="36.7" y="61.7" font-size="11" text-anchor="end">10<tspan font-size="6.8" dx="0.5" dy="-3.3">9</tspan></text>
<text x="36.7" y="12.7" font-size="11" text-anchor="end">10<tspan font-size="6.8" dx="0.5" dy="-3.3">10</tspan></text>
<text x="39.7" y="317.8" font-size="11">10<tspan font-size="6.8" dx="0.5" dy="-3.3">4</tspan></text>
<text x="84.7" y="317.8" font-size="11">10<tspan font-size="6.8" dx="0.5" dy="-3.3">5</tspan></text>
<text x="135.2" y="317.8" font-size="11">10<tspan font-size="6.8" dx="0.5" dy="-3.3">6</tspan></text>
<text x="185.9" y="317.8" font-size="11">10<tspan font-size="6.8" dx="0.5" dy="-3.3">7</tspan></text>
<text x="236.4" y="317.8" font-size="11">10<tspan font-size="6.8" dx="0.5" dy="-3.3">8</tspan></text>
<text x="284.7" y="317.8" font-size="11">10<tspan font-size="6.8" dx="0.5" dy="-3.3">9</tspan></text>
<text x="332.4" y="317.8" font-size="11">10<tspan font-size="6.8" dx="0.5" dy="-3.3">10</tspan></text>
<text x="108.5" y="336" font-size="13.2">Reported flaring (m<tspan font-size="9" dy="-4.4">3</tspan><tspan dy="4.4">/y)</tspan></text>
<text transform="translate(15.0,249.4) rotate(-90)" font-size="13.45">Satellite-estimated flaring (m<tspan font-size="9.2" dy="-3.8">3</tspan><tspan dy="3.8">/y)</tspan></text>
<text x="288" y="15.7" font-size="10.8">+1 OM</text>
<text x="286.5" y="42.6" font-size="10.8">+0.5 OM</text>
<text x="283.8" y="92.8" font-size="10.8">-0.5 OM</text>
<text x="283.8" y="118" font-size="10.8">-1 OM</text>
<rect x="48.3" y="11.3" width="45.7" height="73.1" fill="#fff" stroke="#222" stroke-width="1"/>
<circle cx="61" cy="17.6" r="1.95" fill="#a8363a" fill-opacity="0.2" stroke="#a8363a" stroke-width="1.4"/>
<text x="72.9" y="20.6" font-size="8.2">2012</text>
<circle cx="61" cy="27.7" r="1.95" fill="#ef9132" fill-opacity="0.2" stroke="#ef9132" stroke-width="1.4"/>
<text x="72.9" y="30.7" font-size="8.2">2013</text>
<circle cx="61" cy="37.7" r="1.95" fill="#efb52e" fill-opacity="0.2" stroke="#efb52e" stroke-width="1.4"/>
<text x="72.9" y="40.7" font-size="8.2">2014</text>
<circle cx="61" cy="47.8" r="1.95" fill="#29a386" fill-opacity="0.2" stroke="#29a386" stroke-width="1.4"/>
<text x="72.9" y="50.8" font-size="8.2">2015</text>
<circle cx="61" cy="57.8" r="1.95" fill="#357868" fill-opacity="0.2" stroke="#357868" stroke-width="1.4"/>
<text x="72.9" y="60.8" font-size="8.2">2016</text>
<circle cx="61" cy="67.8" r="1.95" fill="#3aa6e6" fill-opacity="0.2" stroke="#3aa6e6" stroke-width="1.4"/>
<text x="72.9" y="70.8" font-size="8.2">2017</text>
<circle cx="61" cy="77.9" r="1.95" fill="#735080" fill-opacity="0.2" stroke="#735080" stroke-width="1.4"/>
<text x="72.9" y="80.9" font-size="8.2">2018</text>
</svg></body></html>
